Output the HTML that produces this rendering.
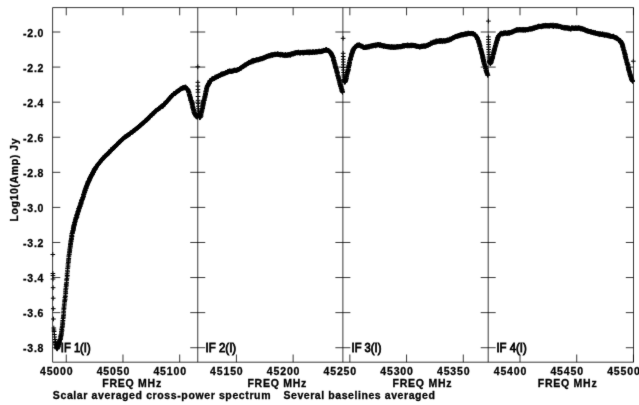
<!DOCTYPE html>
<html>
<head>
<meta charset="utf-8">
<title>Scalar averaged cross-power spectrum</title>
<style>
html,body{margin:0;padding:0;background:#fff;}
body{width:639px;height:405px;overflow:hidden;font-family:"Liberation Sans",sans-serif;}
svg{display:block;}
text{font-family:"Liberation Sans",sans-serif;fill:#000;}
</style>
</head>
<body>
<svg width="639" height="405" viewBox="0 0 639 405">
<defs><filter id="soft" x="0" y="0" width="639" height="405" filterUnits="userSpaceOnUse"><feConvolveMatrix order="3" kernelMatrix="0.015 0.065 0.015 0.065 0.68 0.065 0.015 0.065 0.015" divisor="1" edgeMode="duplicate" preserveAlpha="false"/></filter></defs>
<rect x="0" y="0" width="639" height="405" fill="#ffffff"/>
<g filter="url(#soft)">
<path d="M52.6 7.6H633.5V362.2H52.6ZM197.75 7.6V362.2M342.88 7.6V362.2M488.2 7.6V362.2" fill="none" stroke="#000" stroke-opacity="0.78" stroke-width="1.0"/>
<path d="M66.25 7.6v7.7M66.25 362.2v-7.7M122.97 7.6v7.7M122.97 362.2v-7.7M179.69 7.6v7.7M179.69 362.2v-7.7M236.41 7.6v7.7M236.41 362.2v-7.7M293.13 7.6v7.7M293.13 362.2v-7.7M349.85 7.6v7.7M349.85 362.2v-7.7M406.57 7.6v7.7M406.57 362.2v-7.7M463.29 7.6v7.7M463.29 362.2v-7.7M520.01 7.6v7.7M520.01 362.2v-7.7M576.73 7.6v7.7M576.73 362.2v-7.7M633.45 7.6v7.7M633.45 362.2v-7.7M52.6 32.00h7.7M633.5 32.00h-7.7M190.25 32.00h15M335.38 32.00h15M480.7 32.00h15M52.6 67.08h7.7M633.5 67.08h-7.7M190.25 67.08h15M335.38 67.08h15M480.7 67.08h15M52.6 102.16h7.7M633.5 102.16h-7.7M190.25 102.16h15M335.38 102.16h15M480.7 102.16h15M52.6 137.24h7.7M633.5 137.24h-7.7M190.25 137.24h15M335.38 137.24h15M480.7 137.24h15M52.6 172.32h7.7M633.5 172.32h-7.7M190.25 172.32h15M335.38 172.32h15M480.7 172.32h15M52.6 207.40h7.7M633.5 207.40h-7.7M190.25 207.40h15M335.38 207.40h15M480.7 207.40h15M52.6 242.48h7.7M633.5 242.48h-7.7M190.25 242.48h15M335.38 242.48h15M480.7 242.48h15M52.6 277.56h7.7M633.5 277.56h-7.7M190.25 277.56h15M335.38 277.56h15M480.7 277.56h15M52.6 312.64h7.7M633.5 312.64h-7.7M190.25 312.64h15M335.38 312.64h15M480.7 312.64h15M52.6 347.72h7.7M633.5 347.72h-7.7M190.25 347.72h15M335.38 347.72h15M480.7 347.72h15" fill="none" stroke="#000" stroke-opacity="0.78" stroke-width="1.0"/>
<path d="M50.45 254.50h4.70M52.80 252.15v4.70M50.55 273.50h4.70M52.90 271.15v4.70M50.60 275.60h4.70M52.95 273.25v4.70M50.65 279.00h4.70M53.00 276.65v4.70M50.75 287.70h4.70M53.10 285.35v4.70M50.85 298.20h4.70M53.20 295.85v4.70M50.95 308.70h4.70M53.30 306.35v4.70M51.10 319.00h4.70M53.45 316.65v4.70M51.45 328.00h4.70M53.80 325.65v4.70M51.60 330.00h4.70M53.95 327.65v4.70M51.75 331.50h4.70M54.10 329.15v4.70M52.05 334.50h4.70M54.40 332.15v4.70M52.35 337.00h4.70M54.70 334.65v4.70M52.65 339.50h4.70M55.00 337.15v4.70M53.20 341.36h4.70M55.55 339.01v4.70M53.07 342.28h4.70M55.42 339.93v4.70M53.06 342.79h4.70M55.41 340.44v4.70M53.29 342.87h4.70M55.64 340.52v4.70M53.56 344.15h4.70M55.91 341.80v4.70M53.42 344.47h4.70M55.77 342.12v4.70M53.71 344.97h4.70M56.06 342.62v4.70M53.71 345.12h4.70M56.06 342.77v4.70M53.94 346.07h4.70M56.29 343.72v4.70M54.01 346.04h4.70M56.36 343.69v4.70M54.36 347.10h4.70M56.71 344.75v4.70M54.17 348.16h4.70M56.52 345.81v4.70M54.33 347.60h4.70M56.68 345.25v4.70M54.39 347.77h4.70M56.74 345.42v4.70M54.75 348.64h4.70M57.10 346.29v4.70M54.77 348.96h4.70M57.12 346.61v4.70M54.91 348.33h4.70M57.26 345.98v4.70M54.99 347.69h4.70M57.34 345.34v4.70M55.26 347.96h4.70M57.61 345.61v4.70M55.85 346.97h4.70M58.20 344.62v4.70M55.86 346.52h4.70M58.21 344.17v4.70M55.96 345.84h4.70M58.31 343.49v4.70M55.76 345.05h4.70M58.11 342.70v4.70M56.21 345.79h4.70M58.56 343.44v4.70M56.34 344.48h4.70M58.69 342.13v4.70M56.73 344.22h4.70M59.08 341.87v4.70M56.60 343.73h4.70M58.95 341.38v4.70M56.70 343.06h4.70M59.05 340.71v4.70M56.65 342.81h4.70M59.00 340.46v4.70M56.99 342.51h4.70M59.34 340.16v4.70M57.09 341.09h4.70M59.44 338.74v4.70M57.27 341.70h4.70M59.62 339.35v4.70M57.37 340.47h4.70M59.72 338.12v4.70M57.39 339.96h4.70M59.74 337.61v4.70M57.67 339.45h4.70M60.02 337.10v4.70M58.08 339.22h4.70M60.43 336.87v4.70M58.01 339.20h4.70M60.36 336.85v4.70M58.37 338.13h4.70M60.72 335.78v4.70M58.30 337.91h4.70M60.65 335.56v4.70M58.34 336.60h4.70M60.69 334.25v4.70M58.58 336.81h4.70M60.93 334.46v4.70M58.66 335.63h4.70M61.01 333.28v4.70M58.68 335.06h4.70M61.03 332.71v4.70M58.78 334.91h4.70M61.13 332.56v4.70M59.16 333.98h4.70M61.51 331.63v4.70M59.13 333.21h4.70M61.48 330.86v4.70M59.16 332.18h4.70M61.51 329.83v4.70M59.17 331.35h4.70M61.52 329.00v4.70M59.73 330.77h4.70M62.08 328.42v4.70M59.45 329.50h4.70M61.80 327.15v4.70M59.48 328.86h4.70M61.83 326.51v4.70M59.79 327.40h4.70M62.14 325.05v4.70M59.91 326.74h4.70M62.26 324.39v4.70M60.17 326.02h4.70M62.52 323.67v4.70M60.33 324.89h4.70M62.68 322.54v4.70M60.14 324.17h4.70M62.49 321.82v4.70M60.45 323.29h4.70M62.80 320.94v4.70M60.22 322.17h4.70M62.57 319.82v4.70M60.53 320.94h4.70M62.88 318.59v4.70M60.54 320.51h4.70M62.89 318.16v4.70M60.69 318.61h4.70M63.04 316.26v4.70M60.96 317.75h4.70M63.31 315.40v4.70M60.96 316.77h4.70M63.31 314.42v4.70M61.16 315.44h4.70M63.51 313.09v4.70M61.35 314.20h4.70M63.70 311.85v4.70M61.22 312.78h4.70M63.57 310.43v4.70M61.35 311.72h4.70M63.70 309.37v4.70M61.38 309.87h4.70M63.73 307.52v4.70M61.67 308.79h4.70M64.02 306.44v4.70M61.48 308.07h4.70M63.83 305.72v4.70M61.78 306.90h4.70M64.13 304.55v4.70M61.92 305.22h4.70M64.27 302.87v4.70M61.92 304.22h4.70M64.27 301.87v4.70M62.18 302.96h4.70M64.53 300.61v4.70M62.29 301.57h4.70M64.64 299.22v4.70M62.45 300.32h4.70M64.80 297.97v4.70M62.53 299.90h4.70M64.88 297.55v4.70M62.84 299.03h4.70M65.19 296.68v4.70M62.56 297.57h4.70M64.91 295.22v4.70M63.09 296.47h4.70M65.44 294.12v4.70M62.88 295.12h4.70M65.23 292.77v4.70M63.41 293.37h4.70M65.76 291.02v4.70M63.32 292.98h4.70M65.67 290.63v4.70M63.25 291.64h4.70M65.60 289.29v4.70M63.31 290.04h4.70M65.66 287.69v4.70M63.46 289.16h4.70M65.81 286.81v4.70M63.68 288.21h4.70M66.03 285.86v4.70M63.67 286.70h4.70M66.02 284.35v4.70M64.07 285.71h4.70M66.42 283.36v4.70M63.84 284.55h4.70M66.19 282.20v4.70M64.08 283.27h4.70M66.43 280.92v4.70M64.31 282.32h4.70M66.66 279.97v4.70M64.40 280.20h4.70M66.75 277.85v4.70M64.29 279.77h4.70M66.64 277.42v4.70M64.57 278.65h4.70M66.92 276.30v4.70M64.76 276.82h4.70M67.11 274.47v4.70M64.99 275.52h4.70M67.34 273.17v4.70M64.64 275.07h4.70M66.99 272.72v4.70M64.77 273.32h4.70M67.12 270.97v4.70M65.31 271.85h4.70M67.66 269.50v4.70M65.03 270.77h4.70M67.38 268.42v4.70M65.18 268.73h4.70M67.53 266.38v4.70M65.46 268.04h4.70M67.81 265.69v4.70M65.67 266.73h4.70M68.02 264.38v4.70M65.67 265.13h4.70M68.02 262.78v4.70M65.68 263.80h4.70M68.03 261.45v4.70M66.06 262.55h4.70M68.41 260.20v4.70M66.15 261.24h4.70M68.50 258.89v4.70M66.10 260.22h4.70M68.45 257.87v4.70M66.28 259.23h4.70M68.63 256.88v4.70M66.45 258.46h4.70M68.80 256.11v4.70M66.50 256.81h4.70M68.85 254.46v4.70M66.49 255.87h4.70M68.84 253.52v4.70M66.86 254.69h4.70M69.21 252.34v4.70M66.87 254.20h4.70M69.22 251.85v4.70M66.97 252.92h4.70M69.32 250.57v4.70M67.25 252.21h4.70M69.60 249.86v4.70M67.27 251.65h4.70M69.62 249.30v4.70M67.50 250.33h4.70M69.85 247.98v4.70M67.36 249.66h4.70M69.71 247.31v4.70M67.54 248.16h4.70M69.89 245.81v4.70M67.86 247.90h4.70M70.21 245.55v4.70M67.89 246.72h4.70M70.24 244.37v4.70M68.09 246.09h4.70M70.44 243.74v4.70M67.99 245.05h4.70M70.34 242.70v4.70M68.10 244.61h4.70M70.45 242.26v4.70M68.21 244.04h4.70M70.56 241.69v4.70M68.36 243.44h4.70M70.71 241.09v4.70M68.39 242.10h4.70M70.74 239.75v4.70M68.57 241.85h4.70M70.92 239.50v4.70M68.88 241.18h4.70M71.23 238.83v4.70M68.54 240.33h4.70M70.89 237.98v4.70M69.14 239.54h4.70M71.49 237.19v4.70M68.95 238.92h4.70M71.30 236.57v4.70M69.07 238.34h4.70M71.42 235.99v4.70M69.25 237.90h4.70M71.60 235.55v4.70M69.45 236.61h4.70M71.80 234.26v4.70M69.57 236.46h4.70M71.92 234.11v4.70M69.51 235.41h4.70M71.86 233.06v4.70M69.36 235.19h4.70M71.71 232.84v4.70M69.74 233.67h4.70M72.09 231.32v4.70M69.67 233.64h4.70M72.02 231.29v4.70M70.16 233.09h4.70M72.51 230.74v4.70M70.23 232.20h4.70M72.58 229.85v4.70M70.08 232.23h4.70M72.43 229.88v4.70M70.46 231.39h4.70M72.81 229.04v4.70M70.70 230.57h4.70M73.05 228.22v4.70M70.55 230.62h4.70M72.90 228.27v4.70M71.01 229.79h4.70M73.36 227.44v4.70M71.10 229.09h4.70M73.45 226.74v4.70M71.01 228.70h4.70M73.36 226.35v4.70M70.83 228.33h4.70M73.18 225.98v4.70M71.32 227.71h4.70M73.67 225.36v4.70M71.29 227.69h4.70M73.64 225.34v4.70M71.22 226.34h4.70M73.57 223.99v4.70M71.43 225.95h4.70M73.78 223.60v4.70M71.84 225.94h4.70M74.19 223.59v4.70M71.62 225.20h4.70M73.97 222.85v4.70M72.29 224.75h4.70M74.64 222.40v4.70M71.89 224.46h4.70M74.24 222.11v4.70M72.25 223.89h4.70M74.60 221.54v4.70M72.15 222.93h4.70M74.50 220.58v4.70M72.52 222.73h4.70M74.87 220.38v4.70M72.33 222.57h4.70M74.68 220.22v4.70M72.83 221.63h4.70M75.18 219.28v4.70M72.82 221.26h4.70M75.17 218.91v4.70M72.90 220.29h4.70M75.25 217.94v4.70M73.19 219.76h4.70M75.54 217.41v4.70M73.34 219.27h4.70M75.69 216.92v4.70M73.41 219.18h4.70M75.76 216.83v4.70M73.83 218.42h4.70M76.18 216.07v4.70M73.50 218.08h4.70M75.85 215.73v4.70M73.68 217.63h4.70M76.03 215.28v4.70M74.06 217.57h4.70M76.41 215.22v4.70M74.38 216.66h4.70M76.73 214.31v4.70M74.67 217.02h4.70M77.02 214.67v4.70M74.39 215.28h4.70M76.74 212.93v4.70M74.55 215.54h4.70M76.90 213.19v4.70M74.36 215.10h4.70M76.71 212.75v4.70M74.81 214.39h4.70M77.16 212.04v4.70M75.08 214.49h4.70M77.43 212.14v4.70M75.05 213.81h4.70M77.40 211.46v4.70M75.17 213.07h4.70M77.52 210.72v4.70M75.42 213.02h4.70M77.77 210.67v4.70M75.47 211.76h4.70M77.82 209.41v4.70M75.78 211.51h4.70M78.13 209.16v4.70M75.85 212.08h4.70M78.20 209.73v4.70M75.98 210.75h4.70M78.33 208.40v4.70M75.90 211.02h4.70M78.25 208.67v4.70M76.26 210.39h4.70M78.61 208.04v4.70M76.54 209.76h4.70M78.89 207.41v4.70M76.50 209.05h4.70M78.85 206.70v4.70M76.22 208.43h4.70M78.57 206.08v4.70M76.82 208.39h4.70M79.17 206.04v4.70M77.03 207.96h4.70M79.38 205.61v4.70M77.14 207.80h4.70M79.49 205.45v4.70M77.12 207.05h4.70M79.47 204.70v4.70M77.15 207.00h4.70M79.50 204.65v4.70M77.54 206.43h4.70M79.89 204.08v4.70M77.91 206.19h4.70M80.26 203.84v4.70M77.81 205.69h4.70M80.16 203.34v4.70M77.75 205.17h4.70M80.10 202.82v4.70M78.13 204.15h4.70M80.48 201.80v4.70M78.45 204.01h4.70M80.80 201.66v4.70M78.49 203.69h4.70M80.84 201.34v4.70M78.68 203.81h4.70M81.03 201.46v4.70M78.55 202.55h4.70M80.90 200.20v4.70M78.79 202.86h4.70M81.14 200.51v4.70M78.90 202.01h4.70M81.25 199.66v4.70M79.17 200.96h4.70M81.52 198.61v4.70M79.14 200.97h4.70M81.49 198.62v4.70M79.43 200.75h4.70M81.78 198.40v4.70M79.36 200.45h4.70M81.71 198.10v4.70M79.44 200.14h4.70M81.79 197.79v4.70M79.70 199.61h4.70M82.05 197.26v4.70M79.84 199.58h4.70M82.19 197.23v4.70M80.07 199.04h4.70M82.42 196.69v4.70M80.30 198.21h4.70M82.65 195.86v4.70M80.46 198.12h4.70M82.81 195.77v4.70M80.56 197.45h4.70M82.91 195.10v4.70M80.59 197.36h4.70M82.94 195.01v4.70M81.13 196.43h4.70M83.48 194.08v4.70M81.02 196.12h4.70M83.37 193.77v4.70M81.20 195.90h4.70M83.55 193.55v4.70M81.38 194.48h4.70M83.73 192.13v4.70M81.28 194.56h4.70M83.63 192.21v4.70M81.49 194.18h4.70M83.84 191.83v4.70M81.55 194.15h4.70M83.90 191.80v4.70M82.08 192.64h4.70M84.43 190.29v4.70M81.89 193.12h4.70M84.24 190.77v4.70M82.08 192.47h4.70M84.43 190.12v4.70M82.01 191.84h4.70M84.36 189.49v4.70M82.47 191.99h4.70M84.82 189.64v4.70M82.51 190.97h4.70M84.86 188.62v4.70M82.66 190.71h4.70M85.01 188.36v4.70M82.87 190.38h4.70M85.22 188.03v4.70M82.83 189.97h4.70M85.18 187.62v4.70M82.89 189.73h4.70M85.24 187.38v4.70M83.39 188.71h4.70M85.74 186.36v4.70M83.41 188.36h4.70M85.76 186.01v4.70M83.65 188.52h4.70M86.00 186.17v4.70M83.60 188.15h4.70M85.95 185.80v4.70M83.71 187.27h4.70M86.06 184.92v4.70M83.83 187.04h4.70M86.18 184.69v4.70M84.01 186.76h4.70M86.36 184.41v4.70M84.11 186.57h4.70M86.46 184.22v4.70M84.50 185.83h4.70M86.85 183.48v4.70M84.27 185.84h4.70M86.62 183.49v4.70M84.80 185.22h4.70M87.15 182.87v4.70M84.58 185.00h4.70M86.93 182.65v4.70M85.14 184.01h4.70M87.49 181.66v4.70M85.12 184.14h4.70M87.47 181.79v4.70M85.07 184.04h4.70M87.42 181.69v4.70M85.14 183.65h4.70M87.49 181.30v4.70M85.68 183.28h4.70M88.03 180.93v4.70M85.49 182.36h4.70M87.84 180.01v4.70M85.57 182.02h4.70M87.92 179.67v4.70M86.14 182.17h4.70M88.49 179.82v4.70M85.89 181.54h4.70M88.24 179.19v4.70M86.03 181.51h4.70M88.38 179.16v4.70M86.14 181.80h4.70M88.49 179.45v4.70M86.36 180.75h4.70M88.71 178.40v4.70M86.66 181.11h4.70M89.01 178.76v4.70M86.95 180.22h4.70M89.30 177.87v4.70M86.93 180.10h4.70M89.28 177.75v4.70M87.12 179.83h4.70M89.47 177.48v4.70M87.04 179.07h4.70M89.39 176.72v4.70M87.35 178.79h4.70M89.70 176.44v4.70M87.67 178.86h4.70M90.02 176.51v4.70M87.45 178.45h4.70M89.80 176.10v4.70M87.67 178.21h4.70M90.02 175.86v4.70M88.03 177.52h4.70M90.38 175.17v4.70M87.75 177.76h4.70M90.10 175.41v4.70M88.15 177.41h4.70M90.50 175.06v4.70M88.38 177.01h4.70M90.73 174.66v4.70M88.58 176.50h4.70M90.93 174.15v4.70M88.61 176.23h4.70M90.96 173.88v4.70M88.57 176.37h4.70M90.92 174.02v4.70M88.97 175.31h4.70M91.32 172.96v4.70M88.85 175.69h4.70M91.20 173.34v4.70M89.33 175.11h4.70M91.68 172.76v4.70M89.28 174.59h4.70M91.63 172.24v4.70M89.83 174.87h4.70M92.18 172.52v4.70M89.72 174.64h4.70M92.07 172.29v4.70M89.87 174.34h4.70M92.22 171.99v4.70M89.82 174.09h4.70M92.17 171.74v4.70M90.03 173.98h4.70M92.38 171.63v4.70M90.05 173.14h4.70M92.40 170.79v4.70M90.40 173.41h4.70M92.75 171.06v4.70M90.46 172.54h4.70M92.81 170.19v4.70M90.57 172.33h4.70M92.92 169.98v4.70M91.01 172.47h4.70M93.36 170.12v4.70M91.06 172.02h4.70M93.41 169.67v4.70M90.93 172.02h4.70M93.28 169.67v4.70M91.40 171.58h4.70M93.75 169.23v4.70M91.29 171.46h4.70M93.64 169.11v4.70M91.38 171.11h4.70M93.73 168.76v4.70M91.47 170.33h4.70M93.82 167.98v4.70M91.80 170.47h4.70M94.15 168.12v4.70M92.14 170.04h4.70M94.49 167.69v4.70M92.00 169.53h4.70M94.35 167.18v4.70M91.86 169.10h4.70M94.21 166.75v4.70M92.35 169.04h4.70M94.70 166.69v4.70M92.60 169.59h4.70M94.95 167.24v4.70M92.53 169.43h4.70M94.88 167.08v4.70M92.74 169.04h4.70M95.09 166.69v4.70M92.82 168.77h4.70M95.17 166.42v4.70M92.85 168.45h4.70M95.20 166.10v4.70M93.07 168.00h4.70M95.42 165.65v4.70M93.37 167.88h4.70M95.72 165.53v4.70M93.41 167.83h4.70M95.76 165.48v4.70M93.68 166.98h4.70M96.03 164.63v4.70M93.93 167.18h4.70M96.28 164.83v4.70M94.02 166.69h4.70M96.37 164.34v4.70M94.21 166.60h4.70M96.56 164.25v4.70M94.66 165.75h4.70M97.01 163.40v4.70M95.16 165.35h4.70M97.51 163.00v4.70M95.35 164.69h4.70M97.70 162.34v4.70M95.46 164.22h4.70M97.81 161.87v4.70M95.80 164.57h4.70M98.15 162.22v4.70M96.15 164.17h4.70M98.50 161.82v4.70M96.24 163.28h4.70M98.59 160.93v4.70M96.61 163.36h4.70M98.96 161.01v4.70M97.02 162.83h4.70M99.37 160.48v4.70M97.34 162.44h4.70M99.69 160.09v4.70M97.53 162.54h4.70M99.88 160.19v4.70M97.73 161.86h4.70M100.08 159.51v4.70M98.34 161.50h4.70M100.69 159.15v4.70M98.49 160.95h4.70M100.84 158.60v4.70M98.96 160.13h4.70M101.31 157.78v4.70M98.78 160.17h4.70M101.13 157.82v4.70M99.48 160.27h4.70M101.83 157.92v4.70M99.48 159.47h4.70M101.83 157.12v4.70M99.85 159.57h4.70M102.20 157.22v4.70M99.98 158.79h4.70M102.33 156.44v4.70M100.20 158.99h4.70M102.55 156.64v4.70M100.70 158.65h4.70M103.05 156.30v4.70M100.91 157.80h4.70M103.26 155.45v4.70M101.22 157.72h4.70M103.57 155.37v4.70M101.51 157.87h4.70M103.86 155.52v4.70M101.68 157.13h4.70M104.03 154.78v4.70M102.22 157.25h4.70M104.57 154.90v4.70M102.26 155.95h4.70M104.61 153.60v4.70M102.63 156.75h4.70M104.98 154.40v4.70M103.09 156.07h4.70M105.44 153.72v4.70M103.11 155.85h4.70M105.46 153.50v4.70M103.61 155.33h4.70M105.96 152.98v4.70M103.75 155.12h4.70M106.10 152.77v4.70M104.09 154.63h4.70M106.44 152.28v4.70M104.39 154.66h4.70M106.74 152.31v4.70M104.59 154.67h4.70M106.94 152.32v4.70M105.08 153.71h4.70M107.43 151.36v4.70M105.34 154.10h4.70M107.69 151.75v4.70M105.43 154.06h4.70M107.78 151.71v4.70M105.78 153.74h4.70M108.13 151.39v4.70M105.95 152.80h4.70M108.30 150.45v4.70M106.51 153.42h4.70M108.86 151.07v4.70M106.70 152.75h4.70M109.05 150.40v4.70M106.82 151.80h4.70M109.17 149.45v4.70M107.14 152.36h4.70M109.49 150.01v4.70M107.18 151.48h4.70M109.53 149.13v4.70M107.45 151.38h4.70M109.80 149.03v4.70M108.16 150.69h4.70M110.51 148.34v4.70M108.25 151.18h4.70M110.60 148.83v4.70M108.58 150.12h4.70M110.93 147.77v4.70M108.68 149.61h4.70M111.03 147.26v4.70M109.27 149.71h4.70M111.62 147.36v4.70M109.60 149.91h4.70M111.95 147.56v4.70M109.63 149.22h4.70M111.98 146.87v4.70M110.13 149.14h4.70M112.48 146.79v4.70M110.33 148.32h4.70M112.68 145.97v4.70M110.71 148.27h4.70M113.06 145.92v4.70M110.52 148.07h4.70M112.87 145.72v4.70M111.21 148.61h4.70M113.56 146.26v4.70M111.37 147.31h4.70M113.72 144.96v4.70M112.03 147.48h4.70M114.38 145.13v4.70M111.96 146.83h4.70M114.31 144.48v4.70M112.13 147.32h4.70M114.48 144.97v4.70M112.52 146.44h4.70M114.87 144.09v4.70M112.77 146.79h4.70M115.12 144.44v4.70M113.04 146.23h4.70M115.39 143.88v4.70M113.45 145.83h4.70M115.80 143.48v4.70M113.56 145.68h4.70M115.91 143.33v4.70M114.22 145.19h4.70M116.57 142.84v4.70M114.13 144.53h4.70M116.48 142.18v4.70M114.58 144.56h4.70M116.93 142.21v4.70M114.81 144.36h4.70M117.16 142.01v4.70M114.89 144.31h4.70M117.24 141.96v4.70M115.43 143.78h4.70M117.78 141.43v4.70M115.72 143.80h4.70M118.07 141.45v4.70M115.97 142.99h4.70M118.32 140.64v4.70M116.42 142.83h4.70M118.77 140.48v4.70M116.42 142.22h4.70M118.77 139.87v4.70M116.82 142.10h4.70M119.17 139.75v4.70M117.02 142.27h4.70M119.37 139.92v4.70M117.39 142.17h4.70M119.74 139.82v4.70M117.71 141.47h4.70M120.06 139.12v4.70M117.90 141.17h4.70M120.25 138.82v4.70M118.33 141.06h4.70M120.68 138.71v4.70M118.46 141.04h4.70M120.81 138.69v4.70M118.81 140.38h4.70M121.16 138.03v4.70M118.86 140.39h4.70M121.21 138.04v4.70M119.40 140.01h4.70M121.75 137.66v4.70M119.59 139.49h4.70M121.94 137.14v4.70M119.90 139.55h4.70M122.25 137.20v4.70M120.20 139.19h4.70M122.55 136.84v4.70M120.43 139.08h4.70M122.78 136.73v4.70M120.82 138.51h4.70M123.17 136.16v4.70M121.18 138.73h4.70M123.53 136.38v4.70M121.47 138.21h4.70M123.82 135.86v4.70M121.61 137.66h4.70M123.96 135.31v4.70M122.03 137.14h4.70M124.38 134.79v4.70M122.14 137.45h4.70M124.49 135.10v4.70M122.62 137.32h4.70M124.97 134.97v4.70M122.63 136.67h4.70M124.98 134.32v4.70M122.95 136.91h4.70M125.30 134.56v4.70M123.35 136.60h4.70M125.70 134.25v4.70M123.52 136.39h4.70M125.87 134.04v4.70M124.05 135.91h4.70M126.40 133.56v4.70M124.19 136.51h4.70M126.54 134.16v4.70M124.56 135.68h4.70M126.91 133.33v4.70M124.86 135.39h4.70M127.21 133.04v4.70M125.04 135.88h4.70M127.39 133.53v4.70M125.61 134.69h4.70M127.96 132.34v4.70M125.71 135.59h4.70M128.06 133.24v4.70M125.81 134.88h4.70M128.16 132.53v4.70M126.40 134.46h4.70M128.75 132.11v4.70M126.53 134.39h4.70M128.88 132.04v4.70M126.45 134.31h4.70M128.80 131.96v4.70M127.00 134.28h4.70M129.35 131.93v4.70M127.62 134.01h4.70M129.97 131.66v4.70M127.54 133.74h4.70M129.89 131.39v4.70M127.91 133.71h4.70M130.26 131.36v4.70M127.94 132.85h4.70M130.29 130.50v4.70M128.14 133.18h4.70M130.49 130.83v4.70M128.72 132.60h4.70M131.07 130.25v4.70M128.90 132.42h4.70M131.25 130.07v4.70M129.15 132.29h4.70M131.50 129.94v4.70M129.50 132.59h4.70M131.85 130.24v4.70M129.91 131.71h4.70M132.26 129.36v4.70M130.06 132.11h4.70M132.41 129.76v4.70M130.50 131.62h4.70M132.85 129.27v4.70M130.82 131.78h4.70M133.17 129.43v4.70M130.81 130.86h4.70M133.16 128.51v4.70M131.02 131.01h4.70M133.37 128.66v4.70M131.51 130.44h4.70M133.86 128.09v4.70M131.73 130.62h4.70M134.08 128.27v4.70M132.11 130.02h4.70M134.46 127.67v4.70M132.60 129.64h4.70M134.95 127.29v4.70M132.51 130.51h4.70M134.86 128.16v4.70M132.92 129.33h4.70M135.27 126.98v4.70M133.15 129.23h4.70M135.50 126.88v4.70M133.66 129.26h4.70M136.01 126.91v4.70M133.91 128.72h4.70M136.26 126.37v4.70M133.89 128.65h4.70M136.24 126.30v4.70M134.63 128.66h4.70M136.98 126.31v4.70M134.66 128.34h4.70M137.01 125.99v4.70M134.91 127.85h4.70M137.26 125.50v4.70M135.06 127.53h4.70M137.41 125.18v4.70M135.55 127.34h4.70M137.90 124.99v4.70M135.93 127.72h4.70M138.28 125.37v4.70M136.30 126.82h4.70M138.65 124.47v4.70M136.27 126.48h4.70M138.62 124.13v4.70M136.52 126.45h4.70M138.87 124.10v4.70M137.01 126.25h4.70M139.36 123.90v4.70M137.26 126.00h4.70M139.61 123.65v4.70M137.50 125.49h4.70M139.85 123.14v4.70M138.06 125.78h4.70M140.41 123.43v4.70M137.95 124.95h4.70M140.30 122.60v4.70M138.28 124.99h4.70M140.63 122.64v4.70M138.84 125.04h4.70M141.19 122.69v4.70M139.10 124.82h4.70M141.45 122.47v4.70M139.39 124.47h4.70M141.74 122.12v4.70M139.57 123.96h4.70M141.92 121.61v4.70M139.52 123.71h4.70M141.87 121.36v4.70M140.34 123.34h4.70M142.69 120.99v4.70M140.26 123.56h4.70M142.61 121.21v4.70M140.65 122.86h4.70M143.00 120.51v4.70M141.15 122.95h4.70M143.50 120.60v4.70M141.32 122.34h4.70M143.67 119.99v4.70M141.56 122.37h4.70M143.91 120.02v4.70M141.89 122.36h4.70M144.24 120.01v4.70M142.22 121.81h4.70M144.57 119.46v4.70M142.44 121.17h4.70M144.79 118.82v4.70M142.72 121.46h4.70M145.07 119.11v4.70M142.85 120.77h4.70M145.20 118.42v4.70M143.18 120.39h4.70M145.53 118.04v4.70M143.52 120.59h4.70M145.87 118.24v4.70M143.61 120.26h4.70M145.96 117.91v4.70M144.20 120.30h4.70M146.55 117.95v4.70M144.48 119.68h4.70M146.83 117.33v4.70M144.56 119.34h4.70M146.91 116.99v4.70M144.98 119.90h4.70M147.33 117.55v4.70M145.39 119.40h4.70M147.74 117.05v4.70M145.66 118.18h4.70M148.01 115.83v4.70M145.71 118.26h4.70M148.06 115.91v4.70M146.21 118.62h4.70M148.56 116.27v4.70M146.21 117.85h4.70M148.56 115.50v4.70M146.68 117.42h4.70M149.03 115.07v4.70M146.78 117.09h4.70M149.13 114.74v4.70M147.29 116.74h4.70M149.64 114.39v4.70M147.61 116.77h4.70M149.96 114.42v4.70M147.84 116.93h4.70M150.19 114.58v4.70M147.91 115.94h4.70M150.26 113.59v4.70M148.36 115.60h4.70M150.71 113.25v4.70M148.47 115.60h4.70M150.82 113.25v4.70M148.88 114.98h4.70M151.23 112.63v4.70M149.09 115.26h4.70M151.44 112.91v4.70M149.63 114.22h4.70M151.98 111.87v4.70M149.91 114.80h4.70M152.26 112.45v4.70M149.83 113.82h4.70M152.18 111.47v4.70M150.34 113.86h4.70M152.69 111.51v4.70M150.58 113.98h4.70M152.93 111.63v4.70M150.79 113.50h4.70M153.14 111.15v4.70M151.20 113.45h4.70M153.55 111.10v4.70M151.68 113.43h4.70M154.03 111.08v4.70M151.73 112.58h4.70M154.08 110.23v4.70M152.34 112.59h4.70M154.69 110.24v4.70M152.33 111.81h4.70M154.68 109.46v4.70M152.66 111.65h4.70M155.01 109.30v4.70M152.76 111.23h4.70M155.11 108.88v4.70M153.04 111.40h4.70M155.39 109.05v4.70M153.18 110.87h4.70M155.53 108.52v4.70M153.67 110.52h4.70M156.02 108.17v4.70M153.78 110.40h4.70M156.13 108.05v4.70M154.04 110.60h4.70M156.39 108.25v4.70M154.39 110.42h4.70M156.74 108.07v4.70M154.96 109.61h4.70M157.31 107.26v4.70M155.11 109.61h4.70M157.46 107.26v4.70M155.21 109.44h4.70M157.56 107.09v4.70M155.63 109.54h4.70M157.98 107.19v4.70M156.10 108.79h4.70M158.45 106.44v4.70M156.17 109.08h4.70M158.52 106.73v4.70M156.69 107.99h4.70M159.04 105.64v4.70M156.99 108.47h4.70M159.34 106.12v4.70M157.31 108.19h4.70M159.66 105.84v4.70M157.24 108.13h4.70M159.59 105.78v4.70M157.83 107.93h4.70M160.18 105.58v4.70M157.58 107.93h4.70M159.93 105.58v4.70M157.98 107.23h4.70M160.33 104.88v4.70M158.33 106.76h4.70M160.68 104.41v4.70M158.60 106.81h4.70M160.95 104.46v4.70M158.98 106.88h4.70M161.33 104.53v4.70M159.30 106.23h4.70M161.65 103.88v4.70M159.61 106.74h4.70M161.96 104.39v4.70M160.06 106.26h4.70M162.41 103.91v4.70M160.30 106.25h4.70M162.65 103.90v4.70M160.69 106.25h4.70M163.04 103.90v4.70M160.72 105.41h4.70M163.07 103.06v4.70M161.28 105.70h4.70M163.63 103.35v4.70M161.57 104.25h4.70M163.92 101.90v4.70M161.59 103.69h4.70M163.94 101.34v4.70M162.02 104.40h4.70M164.37 102.05v4.70M162.20 104.04h4.70M164.55 101.69v4.70M162.67 103.68h4.70M165.02 101.33v4.70M162.91 103.62h4.70M165.26 101.27v4.70M163.09 103.27h4.70M165.44 100.92v4.70M163.34 102.48h4.70M165.69 100.13v4.70M163.72 102.69h4.70M166.07 100.34v4.70M163.87 102.37h4.70M166.22 100.02v4.70M164.31 101.43h4.70M166.66 99.08v4.70M164.44 101.34h4.70M166.79 98.99v4.70M164.61 101.23h4.70M166.96 98.88v4.70M164.90 100.67h4.70M167.25 98.32v4.70M165.35 100.56h4.70M167.70 98.21v4.70M165.64 100.79h4.70M167.99 98.44v4.70M165.80 99.86h4.70M168.15 97.51v4.70M165.98 99.60h4.70M168.33 97.25v4.70M166.62 99.49h4.70M168.97 97.14v4.70M166.63 98.72h4.70M168.98 96.37v4.70M167.20 98.46h4.70M169.55 96.11v4.70M167.44 97.88h4.70M169.79 95.53v4.70M167.79 98.18h4.70M170.14 95.83v4.70M167.93 97.34h4.70M170.28 94.99v4.70M168.12 97.33h4.70M170.47 94.98v4.70M168.47 96.98h4.70M170.82 94.63v4.70M168.68 96.80h4.70M171.03 94.45v4.70M169.21 95.88h4.70M171.56 93.53v4.70M169.07 95.75h4.70M171.42 93.40v4.70M169.46 95.44h4.70M171.81 93.09v4.70M169.93 95.73h4.70M172.28 93.38v4.70M170.09 95.25h4.70M172.44 92.90v4.70M170.44 95.25h4.70M172.79 92.90v4.70M170.75 94.73h4.70M173.10 92.38v4.70M171.08 94.27h4.70M173.43 91.92v4.70M171.45 93.54h4.70M173.80 91.19v4.70M171.46 93.86h4.70M173.81 91.51v4.70M171.95 93.54h4.70M174.30 91.19v4.70M172.39 93.29h4.70M174.74 90.94v4.70M172.70 93.65h4.70M175.05 91.30v4.70M172.69 93.42h4.70M175.04 91.07v4.70M173.30 93.32h4.70M175.65 90.97v4.70M172.92 93.19h4.70M175.27 90.84v4.70M173.57 92.12h4.70M175.92 89.77v4.70M173.93 92.02h4.70M176.28 89.67v4.70M174.13 92.24h4.70M176.48 89.89v4.70M174.29 92.14h4.70M176.64 89.79v4.70M174.52 91.79h4.70M176.87 89.44v4.70M174.87 91.47h4.70M177.22 89.12v4.70M175.52 91.35h4.70M177.87 89.00v4.70M175.36 91.07h4.70M177.71 88.72v4.70M175.69 90.91h4.70M178.04 88.56v4.70M176.11 90.72h4.70M178.46 88.37v4.70M176.38 90.33h4.70M178.73 87.98v4.70M176.72 90.61h4.70M179.07 88.26v4.70M176.84 90.08h4.70M179.19 87.73v4.70M177.23 90.27h4.70M179.58 87.92v4.70M177.67 89.47h4.70M180.02 87.12v4.70M177.80 89.03h4.70M180.15 86.68v4.70M177.93 89.27h4.70M180.28 86.92v4.70M178.45 89.35h4.70M180.80 87.00v4.70M178.59 88.46h4.70M180.94 86.11v4.70M178.98 88.63h4.70M181.33 86.28v4.70M179.27 88.55h4.70M181.62 86.20v4.70M179.60 88.53h4.70M181.95 86.18v4.70M179.90 88.04h4.70M182.25 85.69v4.70M180.21 87.88h4.70M182.56 85.53v4.70M180.35 88.47h4.70M182.70 86.12v4.70M180.68 87.46h4.70M183.03 85.11v4.70M181.13 88.02h4.70M183.48 85.67v4.70M181.36 87.69h4.70M183.71 85.34v4.70M181.53 87.47h4.70M183.88 85.12v4.70M181.65 87.92h4.70M184.00 85.57v4.70M181.99 87.25h4.70M184.34 84.90v4.70M182.26 87.90h4.70M184.61 85.55v4.70M182.74 87.20h4.70M185.09 84.85v4.70M182.89 87.45h4.70M185.24 85.10v4.70M183.31 86.89h4.70M185.66 84.54v4.70M183.60 87.48h4.70M185.95 85.13v4.70M183.64 87.67h4.70M185.99 85.32v4.70M184.15 88.60h4.70M186.50 86.25v4.70M184.33 88.57h4.70M186.68 86.22v4.70M184.47 88.88h4.70M186.82 86.53v4.70M185.00 88.64h4.70M187.35 86.29v4.70M185.08 89.76h4.70M187.43 87.41v4.70M185.04 89.65h4.70M187.39 87.30v4.70M185.54 89.52h4.70M187.89 87.17v4.70M185.53 90.31h4.70M187.88 87.96v4.70M185.86 90.20h4.70M188.21 87.85v4.70M186.04 90.98h4.70M188.39 88.63v4.70M186.19 91.55h4.70M188.54 89.20v4.70M186.21 91.68h4.70M188.56 89.33v4.70M186.03 91.46h4.70M188.38 89.11v4.70M186.29 92.12h4.70M188.64 89.77v4.70M186.72 92.08h4.70M189.07 89.73v4.70M186.67 92.66h4.70M189.02 90.31v4.70M186.63 93.96h4.70M188.98 91.61v4.70M187.02 94.50h4.70M189.37 92.15v4.70M187.32 94.25h4.70M189.67 91.90v4.70M187.01 95.68h4.70M189.36 93.33v4.70M187.37 95.26h4.70M189.72 92.91v4.70M187.68 96.19h4.70M190.03 93.84v4.70M187.61 96.59h4.70M189.96 94.24v4.70M187.88 97.25h4.70M190.23 94.90v4.70M188.11 97.65h4.70M190.46 95.30v4.70M188.09 98.44h4.70M190.44 96.09v4.70M188.33 99.08h4.70M190.68 96.73v4.70M188.39 99.21h4.70M190.74 96.86v4.70M188.39 100.16h4.70M190.74 97.81v4.70M188.50 100.25h4.70M190.85 97.90v4.70M188.71 100.77h4.70M191.06 98.42v4.70M189.10 100.65h4.70M191.45 98.30v4.70M189.10 101.10h4.70M191.45 98.75v4.70M189.48 101.99h4.70M191.83 99.64v4.70M189.18 102.42h4.70M191.53 100.07v4.70M189.75 103.60h4.70M192.10 101.25v4.70M189.89 103.45h4.70M192.24 101.10v4.70M189.82 104.75h4.70M192.17 102.40v4.70M189.84 104.64h4.70M192.19 102.29v4.70M189.92 104.89h4.70M192.27 102.54v4.70M190.36 105.93h4.70M192.71 103.58v4.70M190.36 106.42h4.70M192.71 104.07v4.70M190.56 107.22h4.70M192.91 104.87v4.70M190.52 107.17h4.70M192.87 104.82v4.70M190.48 108.09h4.70M192.83 105.74v4.70M190.67 107.81h4.70M193.02 105.46v4.70M190.82 108.73h4.70M193.17 106.38v4.70M191.10 109.47h4.70M193.45 107.12v4.70M191.01 109.45h4.70M193.36 107.10v4.70M191.21 109.81h4.70M193.56 107.46v4.70M191.38 110.79h4.70M193.73 108.44v4.70M191.55 110.64h4.70M193.90 108.29v4.70M191.51 111.97h4.70M193.86 109.62v4.70M191.67 112.26h4.70M194.02 109.91v4.70M192.06 112.38h4.70M194.41 110.03v4.70M191.96 112.95h4.70M194.31 110.60v4.70M192.12 113.23h4.70M194.47 110.88v4.70M192.41 113.43h4.70M194.76 111.08v4.70M192.50 113.89h4.70M194.85 111.54v4.70M192.49 114.23h4.70M194.84 111.88v4.70M192.72 114.00h4.70M195.07 111.65v4.70M192.91 114.70h4.70M195.26 112.35v4.70M193.01 114.39h4.70M195.36 112.04v4.70M193.36 115.44h4.70M195.71 113.09v4.70M193.48 115.56h4.70M195.83 113.21v4.70M193.34 115.71h4.70M195.69 113.36v4.70M193.67 116.72h4.70M196.02 114.37v4.70M194.02 116.61h4.70M196.37 114.26v4.70M194.15 116.33h4.70M196.50 113.98v4.70M194.58 117.10h4.70M196.93 114.75v4.70M195.03 117.09h4.70M197.38 114.74v4.70M195.45 66.80h4.70M197.80 64.45v4.70M195.50 82.30h4.70M197.85 79.95v4.70M195.55 86.10h4.70M197.90 83.75v4.70M195.60 89.60h4.70M197.95 87.25v4.70M195.65 92.20h4.70M198.00 89.85v4.70M195.70 96.50h4.70M198.05 94.15v4.70M195.75 100.30h4.70M198.10 97.95v4.70M195.85 103.40h4.70M198.20 101.05v4.70M195.95 106.20h4.70M198.30 103.85v4.70M196.05 108.80h4.70M198.40 106.45v4.70M196.15 111.00h4.70M198.50 108.65v4.70M195.97 113.54h4.70M198.32 111.19v4.70M196.22 114.58h4.70M198.57 112.23v4.70M196.76 115.15h4.70M199.11 112.80v4.70M196.74 115.17h4.70M199.09 112.82v4.70M197.09 116.05h4.70M199.44 113.70v4.70M197.00 116.21h4.70M199.35 113.86v4.70M196.98 116.52h4.70M199.33 114.17v4.70M197.09 117.20h4.70M199.44 114.85v4.70M197.31 117.79h4.70M199.66 115.44v4.70M197.63 117.35h4.70M199.98 115.00v4.70M197.84 117.41h4.70M200.19 115.06v4.70M197.89 116.84h4.70M200.24 114.49v4.70M197.83 115.86h4.70M200.18 113.51v4.70M198.33 115.72h4.70M200.68 113.37v4.70M198.86 116.09h4.70M201.21 113.74v4.70M198.32 114.43h4.70M200.67 112.08v4.70M198.64 114.77h4.70M200.99 112.42v4.70M198.94 113.81h4.70M201.29 111.46v4.70M198.68 112.91h4.70M201.03 110.56v4.70M198.60 112.16h4.70M200.95 109.81v4.70M199.18 112.35h4.70M201.53 110.00v4.70M199.03 111.62h4.70M201.38 109.27v4.70M199.59 111.10h4.70M201.94 108.75v4.70M199.41 110.69h4.70M201.76 108.34v4.70M199.65 109.98h4.70M202.00 107.63v4.70M199.60 109.28h4.70M201.95 106.93v4.70M199.81 108.70h4.70M202.16 106.35v4.70M200.11 108.59h4.70M202.46 106.24v4.70M200.19 108.39h4.70M202.54 106.04v4.70M200.37 107.65h4.70M202.72 105.30v4.70M200.31 106.62h4.70M202.66 104.27v4.70M200.71 105.91h4.70M203.06 103.56v4.70M200.38 105.30h4.70M202.73 102.95v4.70M200.62 105.13h4.70M202.97 102.78v4.70M200.86 104.39h4.70M203.21 102.04v4.70M200.56 104.00h4.70M202.91 101.65v4.70M201.08 103.37h4.70M203.43 101.02v4.70M201.02 103.00h4.70M203.37 100.65v4.70M201.37 102.29h4.70M203.72 99.94v4.70M201.06 101.62h4.70M203.41 99.27v4.70M201.36 100.75h4.70M203.71 98.40v4.70M201.61 100.57h4.70M203.96 98.22v4.70M201.69 100.39h4.70M204.04 98.04v4.70M201.68 100.36h4.70M204.03 98.01v4.70M201.75 99.22h4.70M204.10 96.87v4.70M202.02 99.12h4.70M204.37 96.77v4.70M202.12 98.04h4.70M204.47 95.69v4.70M202.37 97.98h4.70M204.72 95.63v4.70M202.72 97.21h4.70M205.07 94.86v4.70M202.58 96.58h4.70M204.93 94.23v4.70M202.46 96.24h4.70M204.81 93.89v4.70M202.96 95.37h4.70M205.31 93.02v4.70M202.87 94.78h4.70M205.22 92.43v4.70M203.31 94.37h4.70M205.66 92.02v4.70M203.31 93.84h4.70M205.66 91.49v4.70M203.35 93.42h4.70M205.70 91.07v4.70M203.10 93.12h4.70M205.45 90.77v4.70M203.65 91.92h4.70M206.00 89.57v4.70M203.65 91.85h4.70M206.00 89.50v4.70M203.63 91.33h4.70M205.98 88.98v4.70M203.62 90.89h4.70M205.97 88.54v4.70M204.20 89.86h4.70M206.55 87.51v4.70M204.12 90.10h4.70M206.47 87.75v4.70M204.27 88.96h4.70M206.62 86.61v4.70M204.22 88.65h4.70M206.57 86.30v4.70M204.45 88.29h4.70M206.80 85.94v4.70M204.36 87.97h4.70M206.71 85.62v4.70M204.67 87.34h4.70M207.02 84.99v4.70M204.76 86.36h4.70M207.11 84.01v4.70M204.93 86.11h4.70M207.28 83.76v4.70M205.10 86.28h4.70M207.45 83.93v4.70M205.46 85.87h4.70M207.81 83.52v4.70M205.36 85.41h4.70M207.71 83.06v4.70M205.67 85.64h4.70M208.02 83.29v4.70M205.67 85.03h4.70M208.02 82.68v4.70M205.75 84.90h4.70M208.10 82.55v4.70M206.15 83.74h4.70M208.50 81.39v4.70M206.19 84.20h4.70M208.54 81.85v4.70M205.94 84.21h4.70M208.29 81.86v4.70M206.42 83.95h4.70M208.77 81.60v4.70M206.37 84.18h4.70M208.72 81.83v4.70M206.73 83.12h4.70M209.08 80.77v4.70M207.09 83.10h4.70M209.44 80.75v4.70M207.12 82.92h4.70M209.47 80.57v4.70M206.83 82.74h4.70M209.18 80.39v4.70M207.23 82.01h4.70M209.58 79.66v4.70M207.56 81.40h4.70M209.91 79.05v4.70M207.61 81.56h4.70M209.96 79.21v4.70M207.70 81.22h4.70M210.05 78.87v4.70M207.61 80.49h4.70M209.96 78.14v4.70M207.96 80.63h4.70M210.31 78.28v4.70M208.98 80.33h4.70M211.33 77.98v4.70M208.68 79.99h4.70M211.03 77.64v4.70M209.13 80.00h4.70M211.48 77.65v4.70M209.09 79.89h4.70M211.44 77.54v4.70M209.55 79.64h4.70M211.90 77.29v4.70M209.53 78.76h4.70M211.88 76.41v4.70M210.21 78.53h4.70M212.56 76.18v4.70M210.46 79.02h4.70M212.81 76.67v4.70M210.71 78.89h4.70M213.06 76.54v4.70M211.01 78.78h4.70M213.36 76.43v4.70M211.19 78.50h4.70M213.54 76.15v4.70M211.98 78.71h4.70M214.33 76.36v4.70M211.91 78.35h4.70M214.26 76.00v4.70M211.99 78.15h4.70M214.34 75.80v4.70M212.35 78.21h4.70M214.70 75.86v4.70M212.53 77.06h4.70M214.88 74.71v4.70M212.87 77.83h4.70M215.22 75.48v4.70M213.61 77.77h4.70M215.96 75.42v4.70M213.37 77.25h4.70M215.72 74.90v4.70M213.66 77.11h4.70M216.01 74.76v4.70M213.95 76.53h4.70M216.30 74.18v4.70M214.44 76.94h4.70M216.79 74.59v4.70M214.63 76.84h4.70M216.98 74.49v4.70M215.24 76.63h4.70M217.59 74.28v4.70M215.17 76.71h4.70M217.52 74.36v4.70M215.26 76.54h4.70M217.61 74.19v4.70M215.67 75.93h4.70M218.02 73.58v4.70M216.09 76.54h4.70M218.44 74.19v4.70M216.24 76.19h4.70M218.59 73.84v4.70M216.70 75.35h4.70M219.05 73.00v4.70M217.06 75.39h4.70M219.41 73.04v4.70M216.99 75.27h4.70M219.34 72.92v4.70M217.38 75.55h4.70M219.73 73.20v4.70M217.66 75.70h4.70M220.01 73.35v4.70M218.09 74.90h4.70M220.44 72.55v4.70M218.22 75.06h4.70M220.57 72.71v4.70M218.32 74.21h4.70M220.67 71.86v4.70M218.78 74.93h4.70M221.13 72.58v4.70M219.22 74.62h4.70M221.57 72.27v4.70M219.44 73.83h4.70M221.79 71.48v4.70M219.71 73.83h4.70M222.06 71.48v4.70M220.17 74.23h4.70M222.52 71.88v4.70M220.31 74.22h4.70M222.66 71.87v4.70M220.66 74.04h4.70M223.01 71.69v4.70M220.95 73.67h4.70M223.30 71.32v4.70M220.98 73.82h4.70M223.33 71.47v4.70M221.68 73.90h4.70M224.03 71.55v4.70M221.71 73.65h4.70M224.06 71.30v4.70M221.96 73.46h4.70M224.31 71.11v4.70M222.22 73.27h4.70M224.57 70.92v4.70M222.90 73.34h4.70M225.25 70.99v4.70M223.10 72.75h4.70M225.45 70.40v4.70M223.06 72.86h4.70M225.41 70.51v4.70M223.53 72.69h4.70M225.88 70.34v4.70M223.88 72.48h4.70M226.23 70.13v4.70M224.22 72.82h4.70M226.57 70.47v4.70M224.13 72.60h4.70M226.48 70.25v4.70M224.55 72.63h4.70M226.90 70.28v4.70M224.78 72.32h4.70M227.13 69.97v4.70M225.23 71.30h4.70M227.58 68.95v4.70M225.15 72.07h4.70M227.50 69.72v4.70M225.70 72.25h4.70M228.05 69.90v4.70M226.03 71.47h4.70M228.38 69.12v4.70M226.33 71.55h4.70M228.68 69.20v4.70M226.53 71.54h4.70M228.88 69.19v4.70M226.90 71.20h4.70M229.25 68.85v4.70M226.97 70.89h4.70M229.32 68.54v4.70M227.74 71.19h4.70M230.09 68.84v4.70M227.57 71.08h4.70M229.92 68.73v4.70M227.89 71.24h4.70M230.24 68.89v4.70M228.36 71.37h4.70M230.71 69.02v4.70M228.60 71.08h4.70M230.95 68.73v4.70M228.82 71.58h4.70M231.17 69.23v4.70M229.12 71.26h4.70M231.47 68.91v4.70M229.10 71.27h4.70M231.45 68.92v4.70M229.72 71.46h4.70M232.07 69.11v4.70M229.56 71.03h4.70M231.91 68.68v4.70M230.23 71.00h4.70M232.58 68.65v4.70M230.44 70.99h4.70M232.79 68.64v4.70M230.92 70.90h4.70M233.27 68.55v4.70M231.06 70.78h4.70M233.41 68.43v4.70M231.33 70.80h4.70M233.68 68.45v4.70M231.56 70.15h4.70M233.91 67.80v4.70M232.15 70.17h4.70M234.50 67.82v4.70M232.22 70.25h4.70M234.57 67.90v4.70M232.47 70.30h4.70M234.82 67.95v4.70M232.79 70.28h4.70M235.14 67.93v4.70M232.89 70.56h4.70M235.24 68.21v4.70M233.57 70.51h4.70M235.92 68.16v4.70M233.67 70.02h4.70M236.02 67.67v4.70M233.92 70.39h4.70M236.27 68.04v4.70M234.12 70.45h4.70M236.47 68.10v4.70M234.50 70.21h4.70M236.85 67.86v4.70M234.71 69.86h4.70M237.06 67.51v4.70M235.10 70.03h4.70M237.45 67.68v4.70M235.40 69.49h4.70M237.75 67.14v4.70M235.52 69.67h4.70M237.87 67.32v4.70M235.64 69.85h4.70M237.99 67.50v4.70M236.25 69.41h4.70M238.60 67.06v4.70M236.38 69.49h4.70M238.73 67.14v4.70M236.73 69.66h4.70M239.08 67.31v4.70M237.11 68.48h4.70M239.46 66.13v4.70M237.44 68.60h4.70M239.79 66.25v4.70M237.54 68.50h4.70M239.89 66.15v4.70M237.88 68.47h4.70M240.23 66.12v4.70M238.30 68.34h4.70M240.65 65.99v4.70M238.36 67.61h4.70M240.71 65.26v4.70M238.63 67.93h4.70M240.98 65.58v4.70M239.17 68.17h4.70M241.52 65.82v4.70M239.12 67.45h4.70M241.47 65.10v4.70M239.57 67.11h4.70M241.92 64.76v4.70M239.91 66.96h4.70M242.26 64.61v4.70M240.13 66.64h4.70M242.48 64.29v4.70M240.51 66.95h4.70M242.86 64.60v4.70M240.98 66.28h4.70M243.33 63.93v4.70M240.86 66.17h4.70M243.21 63.82v4.70M241.18 66.37h4.70M243.53 64.02v4.70M241.46 65.89h4.70M243.81 63.54v4.70M241.67 65.59h4.70M244.02 63.24v4.70M242.18 65.97h4.70M244.53 63.62v4.70M242.33 65.45h4.70M244.68 63.10v4.70M242.41 64.81h4.70M244.76 62.46v4.70M242.88 64.86h4.70M245.23 62.51v4.70M243.35 65.02h4.70M245.70 62.67v4.70M243.33 64.82h4.70M245.68 62.47v4.70M243.69 65.03h4.70M246.04 62.68v4.70M244.19 64.35h4.70M246.54 62.00v4.70M244.40 64.11h4.70M246.75 61.76v4.70M244.71 63.74h4.70M247.06 61.39v4.70M245.10 63.85h4.70M247.45 61.50v4.70M245.39 63.57h4.70M247.74 61.22v4.70M245.66 63.19h4.70M248.01 60.84v4.70M246.38 63.03h4.70M248.73 60.68v4.70M246.06 63.36h4.70M248.41 61.01v4.70M246.59 62.66h4.70M248.94 60.31v4.70M246.44 62.31h4.70M248.79 59.96v4.70M246.83 62.34h4.70M249.18 59.99v4.70M247.23 62.73h4.70M249.58 60.38v4.70M247.70 62.08h4.70M250.05 59.73v4.70M247.91 62.39h4.70M250.26 60.04v4.70M248.32 61.93h4.70M250.67 59.58v4.70M248.28 62.08h4.70M250.63 59.73v4.70M248.90 61.57h4.70M251.25 59.22v4.70M249.25 62.13h4.70M251.60 59.78v4.70M249.20 61.03h4.70M251.55 58.68v4.70M249.44 61.29h4.70M251.79 58.94v4.70M249.89 60.80h4.70M252.24 58.45v4.70M250.46 61.90h4.70M252.81 59.55v4.70M250.27 60.55h4.70M252.62 58.20v4.70M250.64 61.14h4.70M252.99 58.79v4.70M251.15 61.14h4.70M253.50 58.79v4.70M251.20 60.25h4.70M253.55 57.90v4.70M251.59 61.01h4.70M253.94 58.66v4.70M251.75 60.76h4.70M254.10 58.41v4.70M252.11 60.53h4.70M254.46 58.18v4.70M252.19 60.63h4.70M254.54 58.28v4.70M252.43 60.87h4.70M254.78 58.52v4.70M252.79 60.52h4.70M255.14 58.17v4.70M253.10 60.42h4.70M255.45 58.07v4.70M253.47 60.39h4.70M255.82 58.04v4.70M253.66 59.67h4.70M256.01 57.32v4.70M254.02 59.99h4.70M256.37 57.64v4.70M254.12 59.82h4.70M256.47 57.47v4.70M254.38 59.99h4.70M256.73 57.64v4.70M254.86 59.89h4.70M257.21 57.54v4.70M255.59 59.86h4.70M257.94 57.51v4.70M255.54 59.93h4.70M257.89 57.58v4.70M255.74 59.50h4.70M258.09 57.15v4.70M256.18 59.91h4.70M258.53 57.56v4.70M255.89 59.48h4.70M258.24 57.13v4.70M256.56 59.29h4.70M258.91 56.94v4.70M257.09 59.22h4.70M259.44 56.87v4.70M257.31 59.14h4.70M259.66 56.79v4.70M257.41 59.44h4.70M259.76 57.09v4.70M257.64 59.10h4.70M259.99 56.75v4.70M257.87 58.80h4.70M260.22 56.45v4.70M258.43 59.15h4.70M260.78 56.80v4.70M258.43 58.53h4.70M260.78 56.18v4.70M259.27 58.60h4.70M261.62 56.25v4.70M259.04 58.85h4.70M261.39 56.50v4.70M259.33 58.49h4.70M261.68 56.14v4.70M259.87 58.80h4.70M262.22 56.45v4.70M259.99 58.80h4.70M262.34 56.45v4.70M260.28 58.21h4.70M262.63 55.86v4.70M260.58 58.08h4.70M262.93 55.73v4.70M260.95 58.15h4.70M263.30 55.80v4.70M261.04 58.00h4.70M263.39 55.65v4.70M261.35 57.66h4.70M263.70 55.31v4.70M261.70 58.02h4.70M264.05 55.67v4.70M262.04 57.98h4.70M264.39 55.63v4.70M262.52 57.47h4.70M264.87 55.12v4.70M262.48 57.13h4.70M264.83 54.78v4.70M262.90 57.50h4.70M265.25 55.15v4.70M263.38 56.73h4.70M265.73 54.38v4.70M263.56 57.33h4.70M265.91 54.98v4.70M264.07 56.95h4.70M266.42 54.60v4.70M263.98 56.32h4.70M266.33 53.97v4.70M264.16 56.33h4.70M266.51 53.98v4.70M264.41 56.28h4.70M266.76 53.93v4.70M264.61 56.41h4.70M266.96 54.06v4.70M265.18 56.56h4.70M267.53 54.21v4.70M265.39 56.54h4.70M267.74 54.19v4.70M265.85 55.67h4.70M268.20 53.32v4.70M265.93 55.65h4.70M268.28 53.30v4.70M266.11 55.98h4.70M268.46 53.63v4.70M266.52 56.28h4.70M268.87 53.93v4.70M267.13 55.87h4.70M269.48 53.52v4.70M267.08 55.62h4.70M269.43 53.27v4.70M267.39 55.76h4.70M269.74 53.41v4.70M267.57 55.69h4.70M269.92 53.34v4.70M267.92 55.76h4.70M270.27 53.41v4.70M268.45 55.90h4.70M270.80 53.55v4.70M268.51 54.92h4.70M270.86 52.57v4.70M268.56 55.17h4.70M270.91 52.82v4.70M268.88 54.70h4.70M271.23 52.35v4.70M269.33 54.84h4.70M271.68 52.49v4.70M269.77 55.66h4.70M272.12 53.31v4.70M269.91 55.11h4.70M272.26 52.76v4.70M270.00 55.01h4.70M272.35 52.66v4.70M270.41 54.56h4.70M272.76 52.21v4.70M270.52 55.32h4.70M272.87 52.97v4.70M270.84 54.42h4.70M273.19 52.07v4.70M271.37 54.82h4.70M273.72 52.47v4.70M271.69 54.71h4.70M274.04 52.36v4.70M271.80 54.86h4.70M274.15 52.51v4.70M272.25 54.15h4.70M274.60 51.80v4.70M272.74 54.44h4.70M275.09 52.09v4.70M272.93 54.07h4.70M275.28 51.72v4.70M272.89 54.31h4.70M275.24 51.96v4.70M273.25 54.75h4.70M275.60 52.40v4.70M273.39 54.48h4.70M275.74 52.13v4.70M273.77 54.56h4.70M276.12 52.21v4.70M274.24 54.23h4.70M276.59 51.88v4.70M274.82 54.38h4.70M277.17 52.03v4.70M274.94 53.99h4.70M277.29 51.64v4.70M275.04 54.42h4.70M277.39 52.07v4.70M275.36 54.30h4.70M277.71 51.95v4.70M275.50 53.48h4.70M277.85 51.13v4.70M275.82 54.15h4.70M278.17 51.80v4.70M276.15 54.70h4.70M278.50 52.35v4.70M276.81 54.62h4.70M279.16 52.27v4.70M276.91 54.67h4.70M279.26 52.32v4.70M277.15 54.68h4.70M279.50 52.33v4.70M277.29 54.43h4.70M279.64 52.08v4.70M277.66 55.09h4.70M280.01 52.74v4.70M278.01 55.06h4.70M280.36 52.71v4.70M277.98 54.69h4.70M280.33 52.34v4.70M278.52 54.79h4.70M280.87 52.44v4.70M278.54 54.11h4.70M280.89 51.76v4.70M278.71 54.58h4.70M281.06 52.23v4.70M279.66 54.79h4.70M282.01 52.44v4.70M279.42 54.86h4.70M281.77 52.51v4.70M279.84 54.84h4.70M282.19 52.49v4.70M280.10 54.43h4.70M282.45 52.08v4.70M280.37 55.06h4.70M282.72 52.71v4.70M280.78 55.25h4.70M283.13 52.90v4.70M280.86 55.22h4.70M283.21 52.87v4.70M281.31 55.00h4.70M283.66 52.65v4.70M281.77 54.92h4.70M284.12 52.57v4.70M281.91 55.18h4.70M284.26 52.83v4.70M282.25 55.26h4.70M284.60 52.91v4.70M282.63 55.19h4.70M284.98 52.84v4.70M282.66 55.79h4.70M285.01 53.44v4.70M283.00 55.18h4.70M285.35 52.83v4.70M283.18 54.43h4.70M285.53 52.08v4.70M283.46 55.12h4.70M285.81 52.77v4.70M283.94 55.11h4.70M286.29 52.76v4.70M284.26 55.41h4.70M286.61 53.06v4.70M284.57 55.11h4.70M286.92 52.76v4.70M284.72 55.04h4.70M287.07 52.69v4.70M284.86 55.52h4.70M287.21 53.17v4.70M285.09 55.05h4.70M287.44 52.70v4.70M285.59 54.40h4.70M287.94 52.05v4.70M285.95 54.90h4.70M288.30 52.55v4.70M286.16 54.86h4.70M288.51 52.51v4.70M286.18 54.97h4.70M288.53 52.62v4.70M286.71 55.16h4.70M289.06 52.81v4.70M287.05 54.29h4.70M289.40 51.94v4.70M287.43 54.97h4.70M289.78 52.62v4.70M287.66 54.81h4.70M290.01 52.46v4.70M287.72 54.75h4.70M290.07 52.40v4.70M288.06 55.38h4.70M290.41 53.03v4.70M288.36 54.10h4.70M290.71 51.75v4.70M288.63 54.79h4.70M290.98 52.44v4.70M288.88 53.54h4.70M291.23 51.19v4.70M289.47 54.28h4.70M291.82 51.93v4.70M289.46 54.31h4.70M291.81 51.96v4.70M289.68 53.66h4.70M292.03 51.31v4.70M290.24 53.77h4.70M292.59 51.42v4.70M290.46 53.84h4.70M292.81 51.49v4.70M290.79 53.78h4.70M293.14 51.43v4.70M290.64 53.86h4.70M292.99 51.51v4.70M291.16 53.84h4.70M293.51 51.49v4.70M291.53 53.91h4.70M293.88 51.56v4.70M291.75 52.79h4.70M294.10 50.44v4.70M292.03 53.48h4.70M294.38 51.13v4.70M292.31 53.11h4.70M294.66 50.76v4.70M292.87 53.13h4.70M295.22 50.78v4.70M293.09 53.15h4.70M295.44 50.80v4.70M293.00 52.75h4.70M295.35 50.40v4.70M293.45 53.07h4.70M295.80 50.72v4.70M293.66 52.49h4.70M296.01 50.14v4.70M293.92 52.71h4.70M296.27 50.36v4.70M294.22 52.64h4.70M296.57 50.29v4.70M294.91 52.86h4.70M297.26 50.51v4.70M294.80 52.74h4.70M297.15 50.39v4.70M295.44 52.92h4.70M297.79 50.57v4.70M295.47 52.30h4.70M297.82 49.95v4.70M295.51 52.58h4.70M297.86 50.23v4.70M296.04 52.18h4.70M298.39 49.83v4.70M296.14 52.64h4.70M298.49 50.29v4.70M296.29 52.12h4.70M298.64 49.77v4.70M296.89 52.80h4.70M299.24 50.45v4.70M297.23 52.91h4.70M299.58 50.56v4.70M297.71 52.87h4.70M300.06 50.52v4.70M297.71 53.23h4.70M300.06 50.88v4.70M298.29 52.86h4.70M300.64 50.51v4.70M298.20 52.69h4.70M300.55 50.34v4.70M298.29 52.46h4.70M300.64 50.11v4.70M298.52 52.43h4.70M300.87 50.08v4.70M299.33 52.55h4.70M301.68 50.20v4.70M299.70 52.54h4.70M302.05 50.19v4.70M299.76 52.44h4.70M302.11 50.09v4.70M300.10 52.51h4.70M302.45 50.16v4.70M300.49 53.00h4.70M302.84 50.65v4.70M300.65 52.17h4.70M303.00 49.82v4.70M300.96 52.91h4.70M303.31 50.56v4.70M301.26 52.58h4.70M303.61 50.23v4.70M301.58 52.88h4.70M303.93 50.53v4.70M301.34 52.93h4.70M303.69 50.58v4.70M302.13 52.62h4.70M304.48 50.27v4.70M302.21 52.53h4.70M304.56 50.18v4.70M302.67 52.01h4.70M305.02 49.66v4.70M302.97 52.47h4.70M305.32 50.12v4.70M303.37 52.64h4.70M305.72 50.29v4.70M303.40 52.45h4.70M305.75 50.10v4.70M303.81 52.47h4.70M306.16 50.12v4.70M304.08 52.20h4.70M306.43 49.85v4.70M304.09 52.24h4.70M306.44 49.89v4.70M304.35 52.16h4.70M306.70 49.81v4.70M304.90 51.90h4.70M307.25 49.55v4.70M304.95 52.60h4.70M307.30 50.25v4.70M305.33 52.36h4.70M307.68 50.01v4.70M305.51 52.04h4.70M307.86 49.69v4.70M305.94 52.83h4.70M308.29 50.48v4.70M306.33 51.83h4.70M308.68 49.48v4.70M306.62 52.60h4.70M308.97 50.25v4.70M306.94 51.94h4.70M309.29 49.59v4.70M307.11 52.93h4.70M309.46 50.58v4.70M307.26 52.38h4.70M309.61 50.03v4.70M307.57 51.88h4.70M309.92 49.53v4.70M307.90 52.56h4.70M310.25 50.21v4.70M308.42 51.97h4.70M310.77 49.62v4.70M308.46 51.95h4.70M310.81 49.60v4.70M308.51 52.39h4.70M310.86 50.04v4.70M309.33 52.64h4.70M311.68 50.29v4.70M309.31 52.58h4.70M311.66 50.23v4.70M309.83 52.06h4.70M312.18 49.71v4.70M309.95 52.04h4.70M312.30 49.69v4.70M310.27 52.68h4.70M312.62 50.33v4.70M310.38 51.76h4.70M312.73 49.41v4.70M310.93 52.12h4.70M313.28 49.77v4.70M310.80 51.78h4.70M313.15 49.43v4.70M311.25 51.88h4.70M313.60 49.53v4.70M311.70 52.35h4.70M314.05 50.00v4.70M311.91 52.08h4.70M314.26 49.73v4.70M312.11 52.32h4.70M314.46 49.97v4.70M312.71 51.91h4.70M315.06 49.56v4.70M312.68 52.60h4.70M315.03 50.25v4.70M313.21 51.69h4.70M315.56 49.34v4.70M313.10 51.85h4.70M315.45 49.50v4.70M313.82 51.75h4.70M316.17 49.40v4.70M313.89 51.74h4.70M316.24 49.39v4.70M314.31 52.29h4.70M316.66 49.94v4.70M314.30 51.76h4.70M316.65 49.41v4.70M314.75 51.63h4.70M317.10 49.28v4.70M314.88 52.04h4.70M317.23 49.69v4.70M315.37 51.99h4.70M317.72 49.64v4.70M315.85 51.64h4.70M318.20 49.29v4.70M315.99 51.60h4.70M318.34 49.25v4.70M316.18 51.79h4.70M318.53 49.44v4.70M316.45 51.21h4.70M318.80 48.86v4.70M316.99 51.68h4.70M319.34 49.33v4.70M316.87 50.94h4.70M319.22 48.59v4.70M317.33 51.77h4.70M319.68 49.42v4.70M317.76 51.88h4.70M320.11 49.53v4.70M317.84 51.70h4.70M320.19 49.35v4.70M317.95 51.51h4.70M320.30 49.16v4.70M318.60 51.23h4.70M320.95 48.88v4.70M318.72 51.38h4.70M321.07 49.03v4.70M319.05 51.73h4.70M321.40 49.38v4.70M319.15 51.60h4.70M321.50 49.25v4.70M319.41 50.92h4.70M321.76 48.57v4.70M319.77 51.01h4.70M322.12 48.66v4.70M320.09 51.09h4.70M322.44 48.74v4.70M320.45 51.51h4.70M322.80 49.16v4.70M320.79 50.68h4.70M323.14 48.33v4.70M321.07 50.85h4.70M323.42 48.50v4.70M321.27 50.24h4.70M323.62 47.89v4.70M321.46 50.54h4.70M323.81 48.19v4.70M321.99 50.55h4.70M324.34 48.20v4.70M322.14 50.50h4.70M324.49 48.15v4.70M322.36 50.34h4.70M324.71 47.99v4.70M322.93 50.53h4.70M325.28 48.18v4.70M323.21 50.03h4.70M325.56 47.68v4.70M323.32 49.79h4.70M325.67 47.44v4.70M323.71 49.93h4.70M326.06 47.58v4.70M323.65 49.89h4.70M326.00 47.54v4.70M324.17 49.36h4.70M326.52 47.01v4.70M324.21 50.34h4.70M326.56 47.99v4.70M324.72 50.07h4.70M327.07 47.72v4.70M324.74 50.64h4.70M327.09 48.29v4.70M325.42 50.48h4.70M327.77 48.13v4.70M325.39 50.57h4.70M327.74 48.22v4.70M326.01 50.45h4.70M328.36 48.10v4.70M326.08 50.57h4.70M328.43 48.22v4.70M326.49 50.82h4.70M328.84 48.47v4.70M326.64 50.65h4.70M328.99 48.30v4.70M326.72 51.57h4.70M329.07 49.22v4.70M327.49 51.76h4.70M329.84 49.41v4.70M327.75 51.61h4.70M330.10 49.26v4.70M327.81 52.24h4.70M330.16 49.89v4.70M328.08 53.03h4.70M330.43 50.68v4.70M328.05 52.58h4.70M330.40 50.23v4.70M328.34 52.77h4.70M330.69 50.42v4.70M328.66 52.61h4.70M331.01 50.26v4.70M328.84 53.73h4.70M331.19 51.38v4.70M328.86 54.12h4.70M331.21 51.77v4.70M329.31 54.00h4.70M331.66 51.65v4.70M329.21 54.30h4.70M331.56 51.95v4.70M329.32 54.28h4.70M331.67 51.93v4.70M329.27 54.87h4.70M331.62 52.52v4.70M329.45 55.23h4.70M331.80 52.88v4.70M329.79 55.09h4.70M332.14 52.74v4.70M329.86 55.53h4.70M332.21 53.18v4.70M329.93 56.14h4.70M332.28 53.79v4.70M330.10 56.18h4.70M332.45 53.83v4.70M329.94 56.62h4.70M332.29 54.27v4.70M330.16 56.66h4.70M332.51 54.31v4.70M330.76 57.67h4.70M333.11 55.32v4.70M330.60 57.14h4.70M332.95 54.79v4.70M330.86 57.81h4.70M333.21 55.46v4.70M330.99 58.00h4.70M333.34 55.65v4.70M331.25 59.38h4.70M333.60 57.03v4.70M331.01 59.23h4.70M333.36 56.88v4.70M331.27 60.25h4.70M333.62 57.90v4.70M331.19 60.57h4.70M333.54 58.22v4.70M331.56 60.75h4.70M333.91 58.40v4.70M331.82 60.88h4.70M334.17 58.53v4.70M331.62 61.71h4.70M333.97 59.36v4.70M332.04 62.32h4.70M334.39 59.97v4.70M331.93 63.03h4.70M334.28 60.68v4.70M332.09 63.15h4.70M334.44 60.80v4.70M332.26 63.98h4.70M334.61 61.63v4.70M332.85 64.08h4.70M335.20 61.73v4.70M332.63 64.89h4.70M334.98 62.54v4.70M332.69 65.91h4.70M335.04 63.56v4.70M332.99 66.17h4.70M335.34 63.82v4.70M332.95 66.22h4.70M335.30 63.87v4.70M333.20 66.90h4.70M335.55 64.55v4.70M333.22 67.70h4.70M335.57 65.35v4.70M333.26 67.78h4.70M335.61 65.43v4.70M333.70 68.48h4.70M336.05 66.13v4.70M333.83 68.76h4.70M336.18 66.41v4.70M333.97 69.31h4.70M336.32 66.96v4.70M334.21 70.27h4.70M336.56 67.92v4.70M334.22 71.01h4.70M336.57 68.66v4.70M334.35 70.88h4.70M336.70 68.53v4.70M334.67 71.69h4.70M337.02 69.34v4.70M334.76 72.16h4.70M337.11 69.81v4.70M334.90 72.38h4.70M337.25 70.03v4.70M334.67 72.74h4.70M337.02 70.39v4.70M335.12 73.10h4.70M337.47 70.75v4.70M334.88 73.80h4.70M337.23 71.45v4.70M335.33 74.89h4.70M337.68 72.54v4.70M335.31 75.52h4.70M337.66 73.17v4.70M335.62 76.18h4.70M337.97 73.83v4.70M335.86 76.14h4.70M338.21 73.79v4.70M335.89 76.83h4.70M338.24 74.48v4.70M336.07 77.46h4.70M338.42 75.11v4.70M336.15 78.14h4.70M338.50 75.79v4.70M336.29 78.68h4.70M338.64 76.33v4.70M336.43 78.94h4.70M338.78 76.59v4.70M336.71 79.80h4.70M339.06 77.45v4.70M336.90 80.24h4.70M339.25 77.89v4.70M336.82 80.64h4.70M339.17 78.29v4.70M337.02 80.58h4.70M339.37 78.23v4.70M336.97 82.10h4.70M339.32 79.75v4.70M337.27 81.31h4.70M339.62 78.96v4.70M337.40 82.74h4.70M339.75 80.39v4.70M337.38 83.89h4.70M339.73 81.54v4.70M337.87 83.97h4.70M340.22 81.62v4.70M337.82 84.38h4.70M340.17 82.03v4.70M338.11 84.88h4.70M340.46 82.53v4.70M338.03 85.29h4.70M340.38 82.94v4.70M338.29 85.82h4.70M340.64 83.47v4.70M338.26 86.30h4.70M340.61 83.95v4.70M338.55 86.77h4.70M340.90 84.42v4.70M338.72 86.76h4.70M341.07 84.41v4.70M338.96 87.89h4.70M341.31 85.54v4.70M338.78 88.12h4.70M341.13 85.77v4.70M338.99 88.48h4.70M341.34 86.13v4.70M339.41 89.25h4.70M341.76 86.90v4.70M339.70 89.58h4.70M342.05 87.23v4.70M339.37 90.05h4.70M341.72 87.70v4.70M339.32 91.01h4.70M341.67 88.66v4.70M339.86 91.06h4.70M342.21 88.71v4.70M339.99 91.12h4.70M342.34 88.77v4.70M340.09 91.59h4.70M342.44 89.24v4.70M340.17 92.37h4.70M342.52 90.02v4.70M340.75 38.30h4.70M343.10 35.95v4.70M340.80 53.30h4.70M343.15 50.95v4.70M340.85 56.50h4.70M343.20 54.15v4.70M340.90 59.30h4.70M343.25 56.95v4.70M340.95 62.00h4.70M343.30 59.65v4.70M341.00 64.80h4.70M343.35 62.45v4.70M341.05 67.50h4.70M343.40 65.15v4.70M341.15 70.00h4.70M343.50 67.65v4.70M341.25 72.50h4.70M343.60 70.15v4.70M341.35 75.00h4.70M343.70 72.65v4.70M341.50 77.00h4.70M343.85 74.65v4.70M341.48 79.32h4.70M343.83 76.97v4.70M341.62 79.81h4.70M343.97 77.46v4.70M341.79 79.85h4.70M344.14 77.50v4.70M342.06 80.83h4.70M344.41 78.48v4.70M342.08 81.21h4.70M344.43 78.86v4.70M342.16 81.89h4.70M344.51 79.54v4.70M342.32 82.21h4.70M344.67 79.86v4.70M342.70 82.01h4.70M345.05 79.66v4.70M342.73 81.89h4.70M345.08 79.54v4.70M342.84 81.32h4.70M345.19 78.97v4.70M343.06 81.33h4.70M345.41 78.98v4.70M343.22 80.37h4.70M345.57 78.02v4.70M343.48 80.56h4.70M345.83 78.21v4.70M343.53 79.43h4.70M345.88 77.08v4.70M343.51 79.75h4.70M345.86 77.40v4.70M344.01 78.71h4.70M346.36 76.36v4.70M343.73 78.33h4.70M346.08 75.98v4.70M344.00 77.85h4.70M346.35 75.50v4.70M344.00 76.90h4.70M346.35 74.55v4.70M344.17 76.44h4.70M346.52 74.09v4.70M344.22 75.99h4.70M346.57 73.64v4.70M344.37 74.99h4.70M346.72 72.64v4.70M344.63 74.88h4.70M346.98 72.53v4.70M344.37 74.26h4.70M346.72 71.91v4.70M344.84 73.79h4.70M347.19 71.44v4.70M345.27 73.02h4.70M347.62 70.67v4.70M345.11 72.17h4.70M347.46 69.82v4.70M345.03 71.95h4.70M347.38 69.60v4.70M345.37 71.48h4.70M347.72 69.13v4.70M345.60 71.27h4.70M347.95 68.92v4.70M345.77 70.49h4.70M348.12 68.14v4.70M345.81 69.79h4.70M348.16 67.44v4.70M345.90 69.60h4.70M348.25 67.25v4.70M345.89 67.94h4.70M348.24 65.59v4.70M345.98 69.11h4.70M348.33 66.76v4.70M346.17 67.57h4.70M348.52 65.22v4.70M346.32 67.52h4.70M348.67 65.17v4.70M346.46 66.56h4.70M348.81 64.21v4.70M346.34 65.96h4.70M348.69 63.61v4.70M346.46 65.60h4.70M348.81 63.25v4.70M346.98 65.26h4.70M349.33 62.91v4.70M346.78 64.12h4.70M349.13 61.77v4.70M346.77 64.02h4.70M349.12 61.67v4.70M347.18 63.60h4.70M349.53 61.25v4.70M347.26 62.47h4.70M349.61 60.12v4.70M347.03 62.64h4.70M349.38 60.29v4.70M347.31 62.35h4.70M349.66 60.00v4.70M347.23 60.94h4.70M349.58 58.59v4.70M347.52 60.84h4.70M349.87 58.49v4.70M347.87 60.09h4.70M350.22 57.74v4.70M347.98 59.38h4.70M350.33 57.03v4.70M347.93 58.93h4.70M350.28 56.58v4.70M348.03 58.63h4.70M350.38 56.28v4.70M348.27 59.40h4.70M350.62 57.05v4.70M348.16 57.77h4.70M350.51 55.42v4.70M348.61 57.31h4.70M350.96 54.96v4.70M348.86 56.45h4.70M351.21 54.10v4.70M348.91 55.99h4.70M351.26 53.64v4.70M349.06 55.76h4.70M351.41 53.41v4.70M349.11 55.04h4.70M351.46 52.69v4.70M348.94 54.39h4.70M351.29 52.04v4.70M349.47 54.17h4.70M351.82 51.82v4.70M349.61 53.40h4.70M351.96 51.05v4.70M349.74 53.66h4.70M352.09 51.31v4.70M349.45 53.04h4.70M351.80 50.69v4.70M350.22 52.32h4.70M352.57 49.97v4.70M350.22 52.18h4.70M352.57 49.83v4.70M350.34 51.67h4.70M352.69 49.32v4.70M350.24 51.29h4.70M352.59 48.94v4.70M350.44 50.88h4.70M352.79 48.53v4.70M350.51 51.04h4.70M352.86 48.69v4.70M350.69 50.00h4.70M353.04 47.65v4.70M350.78 50.18h4.70M353.13 47.83v4.70M350.73 49.86h4.70M353.08 47.51v4.70M351.31 49.79h4.70M353.66 47.44v4.70M351.28 48.87h4.70M353.63 46.52v4.70M351.52 48.89h4.70M353.87 46.54v4.70M351.83 48.61h4.70M354.18 46.26v4.70M351.71 47.96h4.70M354.06 45.61v4.70M351.88 48.17h4.70M354.23 45.82v4.70M352.38 47.79h4.70M354.73 45.44v4.70M352.68 47.77h4.70M355.03 45.42v4.70M352.65 46.72h4.70M355.00 44.37v4.70M352.95 46.69h4.70M355.30 44.34v4.70M353.21 46.69h4.70M355.56 44.34v4.70M353.72 46.60h4.70M356.07 44.25v4.70M353.94 45.91h4.70M356.29 43.56v4.70M354.25 45.61h4.70M356.60 43.26v4.70M354.49 45.51h4.70M356.84 43.16v4.70M354.93 44.80h4.70M357.28 42.45v4.70M355.16 45.74h4.70M357.51 43.39v4.70M355.31 45.46h4.70M357.66 43.11v4.70M355.63 45.65h4.70M357.98 43.30v4.70M356.13 45.19h4.70M358.48 42.84v4.70M356.42 44.94h4.70M358.77 42.59v4.70M356.52 45.23h4.70M358.87 42.88v4.70M356.55 45.21h4.70M358.90 42.86v4.70M356.92 45.40h4.70M359.27 43.05v4.70M357.17 44.72h4.70M359.52 42.37v4.70M357.39 45.38h4.70M359.74 43.03v4.70M357.92 45.62h4.70M360.27 43.27v4.70M358.04 45.91h4.70M360.39 43.56v4.70M358.36 45.77h4.70M360.71 43.42v4.70M358.87 45.94h4.70M361.22 43.59v4.70M358.72 46.35h4.70M361.07 44.00v4.70M359.29 46.15h4.70M361.64 43.80v4.70M359.77 46.22h4.70M362.12 43.87v4.70M359.95 46.61h4.70M362.30 44.26v4.70M360.53 46.20h4.70M362.88 43.85v4.70M360.45 47.01h4.70M362.80 44.66v4.70M360.87 46.94h4.70M363.22 44.59v4.70M360.90 47.63h4.70M363.25 45.28v4.70M361.21 47.42h4.70M363.56 45.07v4.70M361.55 47.54h4.70M363.90 45.19v4.70M361.64 47.32h4.70M363.99 44.97v4.70M362.12 47.53h4.70M364.47 45.18v4.70M362.57 47.64h4.70M364.92 45.29v4.70M362.78 47.45h4.70M365.13 45.10v4.70M363.16 47.26h4.70M365.51 44.91v4.70M363.25 46.96h4.70M365.60 44.61v4.70M363.39 47.61h4.70M365.74 45.26v4.70M363.82 46.75h4.70M366.17 44.40v4.70M364.10 47.17h4.70M366.45 44.82v4.70M364.22 47.28h4.70M366.57 44.93v4.70M364.64 47.11h4.70M366.99 44.76v4.70M365.10 46.85h4.70M367.45 44.50v4.70M365.41 46.88h4.70M367.76 44.53v4.70M365.49 47.27h4.70M367.84 44.92v4.70M365.87 46.68h4.70M368.22 44.33v4.70M366.08 46.78h4.70M368.43 44.43v4.70M366.16 46.83h4.70M368.51 44.48v4.70M366.66 46.17h4.70M369.01 43.82v4.70M366.80 46.73h4.70M369.15 44.38v4.70M367.04 47.04h4.70M369.39 44.69v4.70M367.35 46.39h4.70M369.70 44.04v4.70M367.41 46.23h4.70M369.76 43.88v4.70M368.00 46.33h4.70M370.35 43.98v4.70M368.39 46.03h4.70M370.74 43.68v4.70M368.97 46.31h4.70M371.32 43.96v4.70M368.82 46.13h4.70M371.17 43.78v4.70M368.78 45.79h4.70M371.13 43.44v4.70M369.68 45.74h4.70M372.03 43.39v4.70M369.80 45.51h4.70M372.15 43.16v4.70M370.18 45.83h4.70M372.53 43.48v4.70M370.34 46.02h4.70M372.69 43.67v4.70M370.87 45.92h4.70M373.22 43.57v4.70M370.65 45.74h4.70M373.00 43.39v4.70M371.23 45.22h4.70M373.58 42.87v4.70M371.23 45.38h4.70M373.58 43.03v4.70M371.72 45.43h4.70M374.07 43.08v4.70M371.93 45.44h4.70M374.28 43.09v4.70M372.37 45.25h4.70M374.72 42.90v4.70M372.67 45.11h4.70M375.02 42.76v4.70M372.66 45.24h4.70M375.01 42.89v4.70M373.31 46.00h4.70M375.66 43.65v4.70M373.14 45.00h4.70M375.49 42.65v4.70M373.61 45.20h4.70M375.96 42.85v4.70M373.90 45.12h4.70M376.25 42.77v4.70M374.46 44.83h4.70M376.81 42.48v4.70M374.58 45.51h4.70M376.93 43.16v4.70M375.01 44.52h4.70M377.36 42.17v4.70M375.47 44.79h4.70M377.82 42.44v4.70M375.49 44.86h4.70M377.84 42.51v4.70M375.66 44.78h4.70M378.01 42.43v4.70M376.11 44.76h4.70M378.46 42.41v4.70M376.11 44.83h4.70M378.46 42.48v4.70M376.58 44.42h4.70M378.93 42.07v4.70M376.98 44.83h4.70M379.33 42.48v4.70M377.26 45.49h4.70M379.61 43.14v4.70M377.48 45.27h4.70M379.83 42.92v4.70M377.65 44.95h4.70M380.00 42.60v4.70M377.72 45.14h4.70M380.07 42.79v4.70M378.20 44.54h4.70M380.55 42.19v4.70M378.61 45.77h4.70M380.96 43.42v4.70M378.91 45.72h4.70M381.26 43.37v4.70M379.09 45.13h4.70M381.44 42.78v4.70M379.43 45.39h4.70M381.78 43.04v4.70M379.53 45.87h4.70M381.88 43.52v4.70M380.01 45.44h4.70M382.36 43.09v4.70M380.30 45.66h4.70M382.65 43.31v4.70M380.65 46.25h4.70M383.00 43.90v4.70M380.74 45.49h4.70M383.09 43.14v4.70M381.33 46.63h4.70M383.68 44.28v4.70M381.31 45.71h4.70M383.66 43.36v4.70M381.51 46.05h4.70M383.86 43.70v4.70M381.99 46.04h4.70M384.34 43.69v4.70M382.38 45.94h4.70M384.73 43.59v4.70M382.45 45.88h4.70M384.80 43.53v4.70M383.03 46.63h4.70M385.38 44.28v4.70M383.30 46.12h4.70M385.65 43.77v4.70M383.59 46.51h4.70M385.94 44.16v4.70M383.78 46.65h4.70M386.13 44.30v4.70M383.91 46.47h4.70M386.26 44.12v4.70M384.01 46.39h4.70M386.36 44.04v4.70M384.49 46.24h4.70M386.84 43.89v4.70M384.82 47.00h4.70M387.17 44.65v4.70M385.02 46.36h4.70M387.37 44.01v4.70M385.25 46.74h4.70M387.60 44.39v4.70M385.92 46.76h4.70M388.27 44.41v4.70M385.95 46.37h4.70M388.30 44.02v4.70M386.28 46.96h4.70M388.63 44.61v4.70M386.45 46.79h4.70M388.80 44.44v4.70M386.70 47.05h4.70M389.05 44.70v4.70M387.28 46.97h4.70M389.63 44.62v4.70M387.44 46.91h4.70M389.79 44.56v4.70M387.55 46.69h4.70M389.90 44.34v4.70M387.87 46.98h4.70M390.22 44.63v4.70M388.21 47.27h4.70M390.56 44.92v4.70M388.61 47.44h4.70M390.96 45.09v4.70M388.90 46.95h4.70M391.25 44.60v4.70M389.08 46.56h4.70M391.43 44.21v4.70M389.60 46.89h4.70M391.95 44.54v4.70M389.57 47.63h4.70M391.92 45.28v4.70M389.75 46.92h4.70M392.10 44.57v4.70M390.19 46.95h4.70M392.54 44.60v4.70M390.50 47.21h4.70M392.85 44.86v4.70M390.86 47.12h4.70M393.21 44.77v4.70M391.15 47.07h4.70M393.50 44.72v4.70M391.42 47.53h4.70M393.77 45.18v4.70M391.36 47.12h4.70M393.71 44.77v4.70M391.93 46.63h4.70M394.28 44.28v4.70M391.73 47.29h4.70M394.08 44.94v4.70M392.37 47.43h4.70M394.72 45.08v4.70M392.75 47.19h4.70M395.10 44.84v4.70M392.98 47.22h4.70M395.33 44.87v4.70M393.18 47.02h4.70M395.53 44.67v4.70M393.72 47.08h4.70M396.07 44.73v4.70M393.96 47.14h4.70M396.31 44.79v4.70M394.12 46.82h4.70M396.47 44.47v4.70M394.58 46.83h4.70M396.93 44.48v4.70M394.79 46.58h4.70M397.14 44.23v4.70M395.06 47.13h4.70M397.41 44.78v4.70M395.21 46.49h4.70M397.56 44.14v4.70M395.56 46.96h4.70M397.91 44.61v4.70M395.79 46.68h4.70M398.14 44.33v4.70M396.29 46.81h4.70M398.64 44.46v4.70M396.38 47.04h4.70M398.73 44.69v4.70M396.72 46.53h4.70M399.07 44.18v4.70M397.14 46.58h4.70M399.49 44.23v4.70M397.43 46.44h4.70M399.78 44.09v4.70M397.62 46.96h4.70M399.97 44.61v4.70M397.92 46.69h4.70M400.27 44.34v4.70M398.21 46.74h4.70M400.56 44.39v4.70M398.44 46.57h4.70M400.79 44.22v4.70M398.67 46.96h4.70M401.02 44.61v4.70M398.86 46.58h4.70M401.21 44.23v4.70M399.13 46.45h4.70M401.48 44.10v4.70M399.75 45.92h4.70M402.10 43.57v4.70M400.10 45.92h4.70M402.45 43.57v4.70M400.00 46.26h4.70M402.35 43.91v4.70M400.25 46.42h4.70M402.60 44.07v4.70M400.77 45.29h4.70M403.12 42.94v4.70M400.76 45.84h4.70M403.11 43.49v4.70M401.32 45.71h4.70M403.67 43.36v4.70M401.44 46.17h4.70M403.79 43.82v4.70M401.68 46.04h4.70M404.03 43.69v4.70M401.91 46.21h4.70M404.26 43.86v4.70M402.60 45.53h4.70M404.95 43.18v4.70M402.33 45.34h4.70M404.68 42.99v4.70M403.10 45.63h4.70M405.45 43.28v4.70M403.40 45.36h4.70M405.75 43.01v4.70M403.39 45.69h4.70M405.74 43.34v4.70M403.97 45.62h4.70M406.32 43.27v4.70M403.94 45.73h4.70M406.29 43.38v4.70M404.39 45.76h4.70M406.74 43.41v4.70M404.63 45.39h4.70M406.98 43.04v4.70M404.95 44.81h4.70M407.30 42.46v4.70M405.27 45.87h4.70M407.62 43.52v4.70M405.59 45.20h4.70M407.94 42.85v4.70M405.57 45.84h4.70M407.92 43.49v4.70M406.00 45.36h4.70M408.35 43.01v4.70M406.39 45.22h4.70M408.74 42.87v4.70M406.65 45.82h4.70M409.00 43.47v4.70M406.86 45.92h4.70M409.21 43.57v4.70M407.27 45.43h4.70M409.62 43.08v4.70M407.64 45.59h4.70M409.99 43.24v4.70M407.94 45.47h4.70M410.29 43.12v4.70M407.98 45.78h4.70M410.33 43.43v4.70M408.33 45.05h4.70M410.68 42.70v4.70M408.76 45.49h4.70M411.11 43.14v4.70M408.91 45.32h4.70M411.26 42.97v4.70M409.28 45.88h4.70M411.63 43.53v4.70M409.47 44.96h4.70M411.82 42.61v4.70M409.68 45.51h4.70M412.03 43.16v4.70M410.02 45.20h4.70M412.37 42.85v4.70M410.44 45.66h4.70M412.79 43.31v4.70M410.59 45.57h4.70M412.94 43.22v4.70M410.81 45.36h4.70M413.16 43.01v4.70M411.13 45.20h4.70M413.48 42.85v4.70M411.52 45.64h4.70M413.87 43.29v4.70M411.67 45.76h4.70M414.02 43.41v4.70M412.05 45.57h4.70M414.40 43.22v4.70M412.23 45.62h4.70M414.58 43.27v4.70M412.80 45.43h4.70M415.15 43.08v4.70M412.87 46.24h4.70M415.22 43.89v4.70M413.00 45.78h4.70M415.35 43.43v4.70M413.30 45.59h4.70M415.65 43.24v4.70M413.90 46.11h4.70M416.25 43.76v4.70M413.84 46.05h4.70M416.19 43.70v4.70M414.31 46.20h4.70M416.66 43.85v4.70M414.44 46.50h4.70M416.79 44.15v4.70M414.72 46.28h4.70M417.07 43.93v4.70M415.16 46.22h4.70M417.51 43.87v4.70M415.43 46.28h4.70M417.78 43.93v4.70M416.10 46.38h4.70M418.45 44.03v4.70M416.09 46.28h4.70M418.44 43.93v4.70M416.10 46.51h4.70M418.45 44.16v4.70M416.50 46.45h4.70M418.85 44.10v4.70M416.83 46.81h4.70M419.18 44.46v4.70M417.40 47.14h4.70M419.75 44.79v4.70M417.41 47.08h4.70M419.76 44.73v4.70M417.94 46.34h4.70M420.29 43.99v4.70M417.89 46.49h4.70M420.24 44.14v4.70M418.54 46.46h4.70M420.89 44.11v4.70M418.49 46.90h4.70M420.84 44.55v4.70M418.79 46.42h4.70M421.14 44.07v4.70M419.18 46.50h4.70M421.53 44.15v4.70M419.02 46.06h4.70M421.37 43.71v4.70M419.77 45.98h4.70M422.12 43.63v4.70M420.13 46.36h4.70M422.48 44.01v4.70M420.27 46.44h4.70M422.62 44.09v4.70M420.25 46.12h4.70M422.60 43.77v4.70M420.64 46.37h4.70M422.99 44.02v4.70M421.31 46.20h4.70M423.66 43.85v4.70M421.37 45.66h4.70M423.72 43.31v4.70M421.59 46.13h4.70M423.94 43.78v4.70M421.90 46.35h4.70M424.25 44.00v4.70M422.42 46.13h4.70M424.77 43.78v4.70M422.56 45.64h4.70M424.91 43.29v4.70M422.87 46.08h4.70M425.22 43.73v4.70M422.81 46.13h4.70M425.16 43.78v4.70M423.25 46.28h4.70M425.60 43.93v4.70M423.70 45.93h4.70M426.05 43.58v4.70M424.17 45.77h4.70M426.52 43.42v4.70M424.15 45.72h4.70M426.50 43.37v4.70M424.50 45.34h4.70M426.85 42.99v4.70M424.85 45.59h4.70M427.20 43.24v4.70M424.97 44.85h4.70M427.32 42.50v4.70M425.52 45.56h4.70M427.87 43.21v4.70M425.76 45.30h4.70M428.11 42.95v4.70M426.18 44.95h4.70M428.53 42.60v4.70M426.44 44.64h4.70M428.79 42.29v4.70M426.35 44.52h4.70M428.70 42.17v4.70M426.72 44.48h4.70M429.07 42.13v4.70M427.32 44.29h4.70M429.67 41.94v4.70M427.49 44.62h4.70M429.84 42.27v4.70M427.89 43.85h4.70M430.24 41.50v4.70M427.81 44.29h4.70M430.16 41.94v4.70M428.03 42.95h4.70M430.38 40.60v4.70M428.18 43.69h4.70M430.53 41.34v4.70M428.54 43.13h4.70M430.89 40.78v4.70M429.02 43.46h4.70M431.37 41.11v4.70M429.12 42.97h4.70M431.47 40.62v4.70M429.66 43.28h4.70M432.01 40.93v4.70M429.86 42.84h4.70M432.21 40.49v4.70M430.14 42.99h4.70M432.49 40.64v4.70M430.60 42.45h4.70M432.95 40.10v4.70M430.83 42.03h4.70M433.18 39.68v4.70M431.04 42.11h4.70M433.39 39.76v4.70M431.25 42.59h4.70M433.60 40.24v4.70M431.92 42.26h4.70M434.27 39.91v4.70M431.86 42.01h4.70M434.21 39.66v4.70M432.28 41.97h4.70M434.63 39.62v4.70M432.60 42.40h4.70M434.95 40.05v4.70M432.83 41.74h4.70M435.18 39.39v4.70M433.13 41.57h4.70M435.48 39.22v4.70M433.04 42.04h4.70M435.39 39.69v4.70M433.87 42.02h4.70M436.22 39.67v4.70M433.82 40.55h4.70M436.17 38.20v4.70M434.04 41.68h4.70M436.39 39.33v4.70M434.38 41.85h4.70M436.73 39.50v4.70M434.60 41.52h4.70M436.95 39.17v4.70M435.04 41.40h4.70M437.39 39.05v4.70M435.07 41.24h4.70M437.42 38.89v4.70M435.61 41.11h4.70M437.96 38.76v4.70M435.66 41.05h4.70M438.01 38.70v4.70M435.99 41.26h4.70M438.34 38.91v4.70M436.56 41.23h4.70M438.91 38.88v4.70M436.76 41.05h4.70M439.11 38.70v4.70M437.01 40.49h4.70M439.36 38.14v4.70M437.28 41.32h4.70M439.63 38.97v4.70M437.47 41.24h4.70M439.82 38.89v4.70M437.61 41.03h4.70M439.96 38.68v4.70M438.09 41.14h4.70M440.44 38.79v4.70M438.42 41.65h4.70M440.77 39.30v4.70M438.21 40.53h4.70M440.56 38.18v4.70M438.87 40.98h4.70M441.22 38.63v4.70M439.15 40.74h4.70M441.50 38.39v4.70M439.30 40.52h4.70M441.65 38.17v4.70M439.69 41.37h4.70M442.04 39.02v4.70M439.98 41.73h4.70M442.33 39.38v4.70M440.55 40.80h4.70M442.90 38.45v4.70M440.79 41.19h4.70M443.14 38.84v4.70M440.77 40.38h4.70M443.12 38.03v4.70M441.46 40.56h4.70M443.81 38.21v4.70M441.65 41.04h4.70M444.00 38.69v4.70M441.55 41.02h4.70M443.90 38.67v4.70M442.17 41.19h4.70M444.52 38.84v4.70M442.37 40.93h4.70M444.72 38.58v4.70M442.71 40.70h4.70M445.06 38.35v4.70M443.19 41.04h4.70M445.54 38.69v4.70M443.45 40.83h4.70M445.80 38.48v4.70M443.68 40.42h4.70M446.03 38.07v4.70M443.70 40.98h4.70M446.05 38.63v4.70M444.04 40.53h4.70M446.39 38.18v4.70M444.38 40.14h4.70M446.73 37.79v4.70M444.67 40.73h4.70M447.02 38.38v4.70M444.88 40.19h4.70M447.23 37.84v4.70M445.47 40.60h4.70M447.82 38.25v4.70M445.34 40.21h4.70M447.69 37.86v4.70M445.53 39.77h4.70M447.88 37.42v4.70M445.77 39.93h4.70M448.12 37.58v4.70M446.41 40.29h4.70M448.76 37.94v4.70M446.61 40.25h4.70M448.96 37.90v4.70M446.99 39.46h4.70M449.34 37.11v4.70M447.07 39.76h4.70M449.42 37.41v4.70M447.58 39.86h4.70M449.93 37.51v4.70M447.55 38.81h4.70M449.90 36.46v4.70M448.35 39.17h4.70M450.70 36.82v4.70M448.48 39.13h4.70M450.83 36.78v4.70M448.40 39.42h4.70M450.75 37.07v4.70M448.97 39.31h4.70M451.32 36.96v4.70M449.27 38.43h4.70M451.62 36.08v4.70M449.46 38.88h4.70M451.81 36.53v4.70M449.64 38.49h4.70M451.99 36.14v4.70M450.21 37.91h4.70M452.56 35.56v4.70M450.26 38.17h4.70M452.61 35.82v4.70M450.74 37.93h4.70M453.09 35.58v4.70M450.78 37.97h4.70M453.13 35.62v4.70M451.08 37.77h4.70M453.43 35.42v4.70M451.51 37.43h4.70M453.86 35.08v4.70M451.86 37.69h4.70M454.21 35.34v4.70M451.82 37.34h4.70M454.17 34.99v4.70M452.28 36.95h4.70M454.63 34.60v4.70M452.60 37.26h4.70M454.95 34.91v4.70M452.85 36.69h4.70M455.20 34.34v4.70M452.97 36.62h4.70M455.32 34.27v4.70M453.44 36.27h4.70M455.79 33.92v4.70M453.68 36.60h4.70M456.03 34.25v4.70M454.22 36.27h4.70M456.57 33.92v4.70M454.59 36.56h4.70M456.94 34.21v4.70M454.71 36.34h4.70M457.06 33.99v4.70M454.88 35.88h4.70M457.23 33.53v4.70M455.14 36.00h4.70M457.49 33.65v4.70M455.45 36.35h4.70M457.80 34.00v4.70M456.01 35.97h4.70M458.36 33.62v4.70M456.15 35.51h4.70M458.50 33.16v4.70M455.98 35.61h4.70M458.33 33.26v4.70M456.60 35.97h4.70M458.95 33.62v4.70M457.21 35.55h4.70M459.56 33.20v4.70M457.33 35.73h4.70M459.68 33.38v4.70M457.45 35.57h4.70M459.80 33.22v4.70M457.76 35.71h4.70M460.11 33.36v4.70M457.83 34.47h4.70M460.18 32.12v4.70M458.29 35.37h4.70M460.64 33.02v4.70M458.71 34.85h4.70M461.06 32.50v4.70M458.92 34.76h4.70M461.27 32.41v4.70M459.23 34.66h4.70M461.58 32.31v4.70M459.25 35.10h4.70M461.60 32.75v4.70M459.50 34.31h4.70M461.85 31.96v4.70M460.09 34.72h4.70M462.44 32.37v4.70M459.91 34.98h4.70M462.26 32.63v4.70M460.36 34.43h4.70M462.71 32.08v4.70M460.81 35.11h4.70M463.16 32.76v4.70M461.11 34.72h4.70M463.46 32.37v4.70M461.37 34.55h4.70M463.72 32.20v4.70M461.47 34.33h4.70M463.82 31.98v4.70M461.87 33.97h4.70M464.22 31.62v4.70M462.29 34.53h4.70M464.64 32.18v4.70M462.60 34.06h4.70M464.95 31.71v4.70M462.92 33.77h4.70M465.27 31.42v4.70M463.14 34.20h4.70M465.49 31.85v4.70M463.37 33.91h4.70M465.72 31.56v4.70M463.68 33.76h4.70M466.03 31.41v4.70M463.91 34.10h4.70M466.26 31.75v4.70M463.94 34.21h4.70M466.29 31.86v4.70M464.58 33.85h4.70M466.93 31.50v4.70M464.65 33.62h4.70M467.00 31.27v4.70M464.99 33.91h4.70M467.34 31.56v4.70M465.46 34.02h4.70M467.81 31.67v4.70M465.65 33.04h4.70M468.00 30.69v4.70M465.78 33.52h4.70M468.13 31.17v4.70M466.26 33.16h4.70M468.61 30.81v4.70M466.46 33.62h4.70M468.81 31.27v4.70M466.69 33.53h4.70M469.04 31.18v4.70M467.40 33.57h4.70M469.75 31.22v4.70M467.64 33.64h4.70M469.99 31.29v4.70M467.52 33.72h4.70M469.87 31.37v4.70M467.85 33.52h4.70M470.20 31.17v4.70M467.86 33.64h4.70M470.21 31.29v4.70M468.39 33.86h4.70M470.74 31.51v4.70M468.78 33.41h4.70M471.13 31.06v4.70M468.89 33.52h4.70M471.24 31.17v4.70M469.27 33.28h4.70M471.62 30.93v4.70M469.89 33.46h4.70M472.24 31.11v4.70M470.03 33.94h4.70M472.38 31.59v4.70M470.24 33.69h4.70M472.59 31.34v4.70M470.53 33.82h4.70M472.88 31.47v4.70M470.83 33.77h4.70M473.18 31.42v4.70M471.05 33.61h4.70M473.40 31.26v4.70M471.25 33.73h4.70M473.60 31.38v4.70M471.62 34.51h4.70M473.97 32.16v4.70M471.74 34.16h4.70M474.09 31.81v4.70M472.01 34.56h4.70M474.36 32.21v4.70M472.60 34.72h4.70M474.95 32.37v4.70M472.77 34.38h4.70M475.12 32.03v4.70M472.99 35.49h4.70M475.34 33.14v4.70M473.20 35.18h4.70M475.55 32.83v4.70M473.65 36.00h4.70M476.00 33.65v4.70M474.13 36.26h4.70M476.48 33.91v4.70M474.12 36.76h4.70M476.47 34.41v4.70M474.30 36.57h4.70M476.65 34.22v4.70M474.63 37.54h4.70M476.98 35.19v4.70M474.54 37.50h4.70M476.89 35.15v4.70M474.79 37.97h4.70M477.14 35.62v4.70M474.79 38.07h4.70M477.14 35.72v4.70M475.05 38.27h4.70M477.40 35.92v4.70M475.09 38.55h4.70M477.44 36.20v4.70M475.23 38.58h4.70M477.58 36.23v4.70M475.28 39.38h4.70M477.63 37.03v4.70M475.68 39.60h4.70M478.03 37.25v4.70M475.17 39.54h4.70M477.52 37.19v4.70M475.91 40.87h4.70M478.26 38.52v4.70M476.17 40.72h4.70M478.52 38.37v4.70M476.08 41.08h4.70M478.43 38.73v4.70M476.53 41.72h4.70M478.88 39.37v4.70M476.28 42.38h4.70M478.63 40.03v4.70M476.68 41.96h4.70M479.03 39.61v4.70M476.60 43.31h4.70M478.95 40.96v4.70M476.97 43.10h4.70M479.32 40.75v4.70M476.98 44.19h4.70M479.33 41.84v4.70M477.17 44.09h4.70M479.52 41.74v4.70M477.24 45.09h4.70M479.59 42.74v4.70M477.48 45.11h4.70M479.83 42.76v4.70M477.90 45.97h4.70M480.25 43.62v4.70M477.47 46.32h4.70M479.82 43.97v4.70M477.43 46.74h4.70M479.78 44.39v4.70M477.97 48.18h4.70M480.32 45.83v4.70M478.15 48.11h4.70M480.50 45.76v4.70M478.37 48.60h4.70M480.72 46.25v4.70M478.31 49.47h4.70M480.66 47.12v4.70M478.62 50.06h4.70M480.97 47.71v4.70M478.84 49.88h4.70M481.19 47.53v4.70M478.76 50.59h4.70M481.11 48.24v4.70M478.91 51.39h4.70M481.26 49.04v4.70M479.09 51.59h4.70M481.44 49.24v4.70M479.47 52.79h4.70M481.82 50.44v4.70M479.37 52.53h4.70M481.72 50.18v4.70M479.39 53.08h4.70M481.74 50.73v4.70M479.46 53.48h4.70M481.81 51.13v4.70M479.74 54.32h4.70M482.09 51.97v4.70M479.89 54.43h4.70M482.24 52.08v4.70M479.98 55.77h4.70M482.33 53.42v4.70M480.09 55.56h4.70M482.44 53.21v4.70M480.57 56.26h4.70M482.92 53.91v4.70M480.19 56.93h4.70M482.54 54.58v4.70M480.29 57.06h4.70M482.64 54.71v4.70M480.65 57.48h4.70M483.00 55.13v4.70M480.40 58.36h4.70M482.75 56.01v4.70M480.85 58.24h4.70M483.20 55.89v4.70M480.79 59.45h4.70M483.14 57.10v4.70M481.00 59.85h4.70M483.35 57.50v4.70M481.06 59.89h4.70M483.41 57.54v4.70M481.10 60.45h4.70M483.45 58.10v4.70M481.33 60.22h4.70M483.68 57.87v4.70M481.13 61.47h4.70M483.48 59.12v4.70M481.63 61.73h4.70M483.98 59.38v4.70M481.64 62.07h4.70M483.99 59.72v4.70M481.55 62.88h4.70M483.90 60.53v4.70M481.89 63.25h4.70M484.24 60.90v4.70M481.85 63.97h4.70M484.20 61.62v4.70M482.17 64.41h4.70M484.52 62.06v4.70M482.30 64.91h4.70M484.65 62.56v4.70M482.54 65.65h4.70M484.89 63.30v4.70M482.87 66.45h4.70M485.22 64.10v4.70M482.74 66.17h4.70M485.09 63.82v4.70M482.98 66.83h4.70M485.33 64.48v4.70M483.25 67.05h4.70M485.60 64.70v4.70M483.11 68.40h4.70M485.46 66.05v4.70M483.31 68.62h4.70M485.66 66.27v4.70M483.55 68.73h4.70M485.90 66.38v4.70M483.72 69.07h4.70M486.07 66.72v4.70M483.69 70.41h4.70M486.04 68.06v4.70M483.85 70.36h4.70M486.20 68.01v4.70M483.86 71.11h4.70M486.21 68.76v4.70M484.03 70.98h4.70M486.38 68.63v4.70M484.21 71.39h4.70M486.56 69.04v4.70M484.24 72.05h4.70M486.59 69.70v4.70M484.51 72.57h4.70M486.86 70.22v4.70M484.58 72.81h4.70M486.93 70.46v4.70M484.82 73.54h4.70M487.17 71.19v4.70M484.87 74.00h4.70M487.22 71.65v4.70M485.12 74.79h4.70M487.47 72.44v4.70M485.39 75.09h4.70M487.74 72.74v4.70M485.58 75.23h4.70M487.93 72.88v4.70M486.05 21.10h4.70M488.40 18.75v4.70M486.10 36.90h4.70M488.45 34.55v4.70M486.15 39.50h4.70M488.50 37.15v4.70M486.20 42.00h4.70M488.55 39.65v4.70M486.25 44.50h4.70M488.60 42.15v4.70M486.30 47.00h4.70M488.65 44.65v4.70M486.35 49.50h4.70M488.70 47.15v4.70M486.45 52.00h4.70M488.80 49.65v4.70M486.55 54.50h4.70M488.90 52.15v4.70M486.65 57.00h4.70M489.00 54.65v4.70M486.80 59.00h4.70M489.15 56.65v4.70M487.15 60.56h4.70M489.50 58.21v4.70M486.99 61.14h4.70M489.34 58.79v4.70M487.02 62.02h4.70M489.37 59.67v4.70M487.33 61.50h4.70M489.68 59.15v4.70M487.27 62.21h4.70M489.62 59.86v4.70M487.49 62.84h4.70M489.84 60.49v4.70M487.85 63.33h4.70M490.20 60.98v4.70M487.94 63.05h4.70M490.29 60.70v4.70M488.16 63.88h4.70M490.51 61.53v4.70M488.00 63.37h4.70M490.35 61.02v4.70M488.52 62.77h4.70M490.87 60.42v4.70M488.86 62.73h4.70M491.21 60.38v4.70M488.86 61.79h4.70M491.21 59.44v4.70M488.69 61.42h4.70M491.04 59.07v4.70M489.01 60.99h4.70M491.36 58.64v4.70M488.97 60.37h4.70M491.32 58.02v4.70M489.35 60.44h4.70M491.70 58.09v4.70M489.48 59.76h4.70M491.83 57.41v4.70M489.69 59.27h4.70M492.04 56.92v4.70M490.02 58.50h4.70M492.37 56.15v4.70M490.01 57.78h4.70M492.36 55.43v4.70M490.27 57.92h4.70M492.62 55.57v4.70M490.35 57.28h4.70M492.70 54.93v4.70M490.31 56.42h4.70M492.66 54.07v4.70M490.51 56.63h4.70M492.86 54.28v4.70M490.20 56.19h4.70M492.55 53.84v4.70M490.63 55.26h4.70M492.98 52.91v4.70M490.77 54.51h4.70M493.12 52.16v4.70M491.12 54.04h4.70M493.47 51.69v4.70M491.38 53.65h4.70M493.73 51.30v4.70M491.33 53.00h4.70M493.68 50.65v4.70M491.27 52.61h4.70M493.62 50.26v4.70M491.53 52.75h4.70M493.88 50.40v4.70M491.58 51.43h4.70M493.93 49.08v4.70M491.60 50.95h4.70M493.95 48.60v4.70M491.87 50.91h4.70M494.22 48.56v4.70M491.78 50.23h4.70M494.13 47.88v4.70M492.19 50.01h4.70M494.54 47.66v4.70M492.08 49.64h4.70M494.43 47.29v4.70M492.34 48.80h4.70M494.69 46.45v4.70M492.42 49.05h4.70M494.77 46.70v4.70M492.35 48.34h4.70M494.70 45.99v4.70M492.60 47.77h4.70M494.95 45.42v4.70M492.82 47.11h4.70M495.17 44.76v4.70M492.88 46.48h4.70M495.23 44.13v4.70M493.15 46.07h4.70M495.50 43.72v4.70M492.98 45.55h4.70M495.33 43.20v4.70M493.52 45.18h4.70M495.87 42.83v4.70M493.50 43.89h4.70M495.85 41.54v4.70M493.70 44.15h4.70M496.05 41.80v4.70M493.97 43.21h4.70M496.32 40.86v4.70M493.86 42.88h4.70M496.21 40.53v4.70M494.00 42.08h4.70M496.35 39.73v4.70M494.11 42.01h4.70M496.46 39.66v4.70M494.27 42.16h4.70M496.62 39.81v4.70M494.37 41.13h4.70M496.72 38.78v4.70M494.77 40.66h4.70M497.12 38.31v4.70M494.92 40.50h4.70M497.27 38.15v4.70M494.80 39.71h4.70M497.15 37.36v4.70M495.05 39.40h4.70M497.40 37.05v4.70M495.19 38.83h4.70M497.54 36.48v4.70M495.40 38.36h4.70M497.75 36.01v4.70M495.39 38.08h4.70M497.74 35.73v4.70M495.41 37.64h4.70M497.76 35.29v4.70M495.71 36.94h4.70M498.06 34.59v4.70M495.62 37.40h4.70M497.97 35.05v4.70M495.98 36.70h4.70M498.33 34.35v4.70M496.07 36.92h4.70M498.42 34.57v4.70M496.28 35.65h4.70M498.63 33.30v4.70M496.52 35.61h4.70M498.87 33.26v4.70M496.65 35.58h4.70M499.00 33.23v4.70M496.92 35.50h4.70M499.27 33.15v4.70M496.82 35.54h4.70M499.17 33.19v4.70M497.42 34.74h4.70M499.77 32.39v4.70M497.32 34.79h4.70M499.67 32.44v4.70M497.51 33.96h4.70M499.86 31.61v4.70M497.58 34.49h4.70M499.93 32.14v4.70M498.03 33.76h4.70M500.38 31.41v4.70M498.56 34.15h4.70M500.91 31.80v4.70M498.69 33.39h4.70M501.04 31.04v4.70M498.86 34.01h4.70M501.21 31.66v4.70M498.85 33.02h4.70M501.20 30.67v4.70M499.31 33.70h4.70M501.66 31.35v4.70M499.75 33.49h4.70M502.10 31.14v4.70M500.02 33.32h4.70M502.37 30.97v4.70M500.46 34.31h4.70M502.81 31.96v4.70M500.63 33.60h4.70M502.98 31.25v4.70M500.78 33.66h4.70M503.13 31.31v4.70M501.15 33.22h4.70M503.50 30.87v4.70M501.35 32.92h4.70M503.70 30.57v4.70M501.62 32.84h4.70M503.97 30.49v4.70M501.79 33.66h4.70M504.14 31.31v4.70M502.33 33.39h4.70M504.68 31.04v4.70M502.62 32.67h4.70M504.97 30.32v4.70M502.84 32.81h4.70M505.19 30.46v4.70M503.00 33.03h4.70M505.35 30.68v4.70M503.43 33.08h4.70M505.78 30.73v4.70M503.70 32.95h4.70M506.05 30.60v4.70M503.97 33.38h4.70M506.32 31.03v4.70M504.58 33.32h4.70M506.93 30.97v4.70M504.50 33.08h4.70M506.85 30.73v4.70M504.96 33.23h4.70M507.31 30.88v4.70M505.28 33.27h4.70M507.63 30.92v4.70M505.45 32.79h4.70M507.80 30.44v4.70M505.44 33.16h4.70M507.79 30.81v4.70M506.04 32.55h4.70M508.39 30.20v4.70M506.24 32.65h4.70M508.59 30.30v4.70M506.45 33.24h4.70M508.80 30.89v4.70M506.75 33.41h4.70M509.10 31.06v4.70M507.07 32.42h4.70M509.42 30.07v4.70M507.39 33.31h4.70M509.74 30.96v4.70M507.63 32.69h4.70M509.98 30.34v4.70M507.60 32.66h4.70M509.95 30.31v4.70M508.01 32.40h4.70M510.36 30.05v4.70M508.71 32.30h4.70M511.06 29.95v4.70M508.89 32.25h4.70M511.24 29.90v4.70M509.02 32.33h4.70M511.37 29.98v4.70M509.52 32.19h4.70M511.87 29.84v4.70M509.63 31.78h4.70M511.98 29.43v4.70M509.67 32.00h4.70M512.02 29.65v4.70M510.18 31.93h4.70M512.53 29.58v4.70M510.64 31.97h4.70M512.99 29.62v4.70M510.64 31.67h4.70M512.99 29.32v4.70M511.10 31.39h4.70M513.45 29.04v4.70M511.00 31.10h4.70M513.35 28.75v4.70M511.61 31.43h4.70M513.96 29.08v4.70M511.86 30.67h4.70M514.21 28.32v4.70M512.39 30.95h4.70M514.74 28.60v4.70M512.40 31.02h4.70M514.75 28.67v4.70M512.86 30.73h4.70M515.21 28.38v4.70M512.95 30.49h4.70M515.30 28.14v4.70M513.44 30.51h4.70M515.79 28.16v4.70M513.68 29.88h4.70M516.03 27.53v4.70M513.81 30.23h4.70M516.16 27.88v4.70M514.10 29.67h4.70M516.45 27.32v4.70M514.39 30.63h4.70M516.74 28.28v4.70M514.78 29.93h4.70M517.13 27.58v4.70M514.91 29.63h4.70M517.26 27.28v4.70M515.34 29.76h4.70M517.69 27.41v4.70M515.53 30.24h4.70M517.88 27.89v4.70M516.01 30.13h4.70M518.36 27.78v4.70M515.91 29.76h4.70M518.26 27.41v4.70M516.62 29.55h4.70M518.97 27.20v4.70M516.91 29.88h4.70M519.26 27.53v4.70M517.15 29.74h4.70M519.50 27.39v4.70M517.11 29.55h4.70M519.46 27.20v4.70M517.79 29.74h4.70M520.14 27.39v4.70M517.67 30.07h4.70M520.02 27.72v4.70M517.91 29.77h4.70M520.26 27.42v4.70M518.47 29.89h4.70M520.82 27.54v4.70M518.77 29.77h4.70M521.12 27.42v4.70M518.62 29.87h4.70M520.97 27.52v4.70M519.27 29.73h4.70M521.62 27.38v4.70M519.63 30.02h4.70M521.98 27.67v4.70M519.87 30.24h4.70M522.22 27.89v4.70M520.45 29.88h4.70M522.80 27.53v4.70M520.36 29.42h4.70M522.71 27.07v4.70M520.78 29.29h4.70M523.13 26.94v4.70M521.23 30.14h4.70M523.58 27.79v4.70M521.18 30.07h4.70M523.53 27.72v4.70M521.41 29.56h4.70M523.76 27.21v4.70M521.94 29.61h4.70M524.29 27.26v4.70M522.15 29.90h4.70M524.50 27.55v4.70M522.63 30.05h4.70M524.98 27.70v4.70M522.91 30.23h4.70M525.26 27.88v4.70M522.84 29.63h4.70M525.19 27.28v4.70M522.93 30.00h4.70M525.28 27.65v4.70M523.11 29.74h4.70M525.46 27.39v4.70M523.45 29.78h4.70M525.80 27.43v4.70M524.20 29.69h4.70M526.55 27.34v4.70M524.29 29.78h4.70M526.64 27.43v4.70M524.70 29.44h4.70M527.05 27.09v4.70M524.96 29.81h4.70M527.31 27.46v4.70M525.07 29.49h4.70M527.42 27.14v4.70M525.69 29.94h4.70M528.04 27.59v4.70M525.86 29.41h4.70M528.21 27.06v4.70M526.03 29.20h4.70M528.38 26.85v4.70M526.10 29.38h4.70M528.45 27.03v4.70M526.55 29.07h4.70M528.90 26.72v4.70M526.74 29.48h4.70M529.09 27.13v4.70M527.14 28.81h4.70M529.49 26.46v4.70M527.80 28.68h4.70M530.15 26.33v4.70M527.81 28.82h4.70M530.16 26.47v4.70M528.16 29.06h4.70M530.51 26.71v4.70M528.50 28.94h4.70M530.85 26.59v4.70M528.51 29.31h4.70M530.86 26.96v4.70M528.90 28.73h4.70M531.25 26.38v4.70M529.17 28.50h4.70M531.52 26.15v4.70M529.53 29.15h4.70M531.88 26.80v4.70M529.99 28.66h4.70M532.34 26.31v4.70M530.14 28.73h4.70M532.49 26.38v4.70M530.23 28.87h4.70M532.58 26.52v4.70M530.65 27.80h4.70M533.00 25.45v4.70M530.99 27.99h4.70M533.34 25.64v4.70M531.22 28.39h4.70M533.57 26.04v4.70M531.42 28.18h4.70M533.77 25.83v4.70M531.95 27.60h4.70M534.30 25.25v4.70M531.75 27.89h4.70M534.10 25.54v4.70M532.28 28.46h4.70M534.63 26.11v4.70M532.75 27.90h4.70M535.10 25.55v4.70M532.87 27.07h4.70M535.22 24.72v4.70M532.96 27.46h4.70M535.31 25.11v4.70M533.47 27.34h4.70M535.82 24.99v4.70M533.75 27.59h4.70M536.10 25.24v4.70M533.91 27.16h4.70M536.26 24.81v4.70M534.15 27.56h4.70M536.50 25.21v4.70M534.28 27.29h4.70M536.63 24.94v4.70M534.98 26.42h4.70M537.33 24.07v4.70M535.07 27.27h4.70M537.42 24.92v4.70M535.29 26.69h4.70M537.64 24.34v4.70M535.71 27.19h4.70M538.06 24.84v4.70M536.09 26.51h4.70M538.44 24.16v4.70M536.07 26.20h4.70M538.42 23.85v4.70M536.61 25.93h4.70M538.96 23.58v4.70M536.76 26.70h4.70M539.11 24.35v4.70M536.95 26.37h4.70M539.30 24.02v4.70M537.40 26.64h4.70M539.75 24.29v4.70M537.49 26.39h4.70M539.84 24.04v4.70M537.97 26.36h4.70M540.32 24.01v4.70M538.03 26.44h4.70M540.38 24.09v4.70M538.42 26.21h4.70M540.77 23.86v4.70M538.70 26.79h4.70M541.05 24.44v4.70M539.12 26.81h4.70M541.47 24.46v4.70M539.30 26.04h4.70M541.65 23.69v4.70M539.90 25.98h4.70M542.25 23.63v4.70M540.03 26.39h4.70M542.38 24.04v4.70M540.19 25.81h4.70M542.54 23.46v4.70M540.50 26.28h4.70M542.85 23.93v4.70M540.88 26.32h4.70M543.23 23.97v4.70M541.06 25.76h4.70M543.41 23.41v4.70M541.21 25.78h4.70M543.56 23.43v4.70M541.58 25.80h4.70M543.93 23.45v4.70M541.81 25.59h4.70M544.16 23.24v4.70M542.19 26.06h4.70M544.54 23.71v4.70M542.47 25.57h4.70M544.82 23.22v4.70M542.96 26.12h4.70M545.31 23.77v4.70M543.04 25.62h4.70M545.39 23.27v4.70M543.10 25.20h4.70M545.45 22.85v4.70M543.65 26.06h4.70M546.00 23.71v4.70M544.21 25.88h4.70M546.56 23.53v4.70M544.15 25.77h4.70M546.50 23.42v4.70M544.28 25.58h4.70M546.63 23.23v4.70M544.61 25.59h4.70M546.96 23.24v4.70M545.29 26.23h4.70M547.64 23.88v4.70M545.39 25.69h4.70M547.74 23.34v4.70M545.39 25.38h4.70M547.74 23.03v4.70M546.15 25.92h4.70M548.50 23.57v4.70M546.33 25.71h4.70M548.68 23.36v4.70M546.74 25.50h4.70M549.09 23.15v4.70M546.75 26.42h4.70M549.10 24.07v4.70M546.93 25.71h4.70M549.28 23.36v4.70M547.28 26.03h4.70M549.63 23.68v4.70M547.58 25.49h4.70M549.93 23.14v4.70M547.86 25.84h4.70M550.21 23.49v4.70M548.04 25.16h4.70M550.39 22.81v4.70M548.46 25.50h4.70M550.81 23.15v4.70M548.84 25.51h4.70M551.19 23.16v4.70M548.95 25.71h4.70M551.30 23.36v4.70M549.39 25.94h4.70M551.74 23.59v4.70M549.62 25.10h4.70M551.97 22.75v4.70M549.89 25.66h4.70M552.24 23.31v4.70M550.16 25.83h4.70M552.51 23.48v4.70M550.42 26.02h4.70M552.77 23.67v4.70M550.70 26.12h4.70M553.05 23.77v4.70M550.86 25.00h4.70M553.21 22.65v4.70M551.17 26.58h4.70M553.52 24.23v4.70M551.56 25.71h4.70M553.91 23.36v4.70M551.92 25.63h4.70M554.27 23.28v4.70M552.20 25.81h4.70M554.55 23.46v4.70M552.76 26.15h4.70M555.11 23.80v4.70M552.77 26.02h4.70M555.12 23.67v4.70M553.11 25.50h4.70M555.46 23.15v4.70M553.47 25.65h4.70M555.82 23.30v4.70M553.70 25.90h4.70M556.05 23.55v4.70M554.00 26.31h4.70M556.35 23.96v4.70M554.24 25.76h4.70M556.59 23.41v4.70M554.39 26.10h4.70M556.74 23.75v4.70M554.66 25.86h4.70M557.01 23.51v4.70M554.98 25.91h4.70M557.33 23.56v4.70M555.36 25.93h4.70M557.71 23.58v4.70M555.58 25.90h4.70M557.93 23.55v4.70M555.59 26.42h4.70M557.94 24.07v4.70M556.28 26.10h4.70M558.63 23.75v4.70M556.54 26.41h4.70M558.89 24.06v4.70M556.53 26.74h4.70M558.88 24.39v4.70M556.69 26.45h4.70M559.04 24.10v4.70M557.38 26.21h4.70M559.73 23.86v4.70M557.80 26.44h4.70M560.15 24.09v4.70M558.03 26.64h4.70M560.38 24.29v4.70M558.23 26.77h4.70M560.58 24.42v4.70M558.76 26.99h4.70M561.11 24.64v4.70M558.85 27.17h4.70M561.20 24.82v4.70M559.01 26.96h4.70M561.36 24.61v4.70M559.32 27.41h4.70M561.67 25.06v4.70M559.68 27.36h4.70M562.03 25.01v4.70M559.81 27.48h4.70M562.16 25.13v4.70M559.97 27.34h4.70M562.32 24.99v4.70M560.09 27.21h4.70M562.44 24.86v4.70M560.66 27.06h4.70M563.01 24.71v4.70M560.79 27.82h4.70M563.14 25.47v4.70M561.33 27.93h4.70M563.68 25.58v4.70M561.71 27.85h4.70M564.06 25.50v4.70M561.94 27.79h4.70M564.29 25.44v4.70M562.30 27.28h4.70M564.65 24.93v4.70M562.36 28.09h4.70M564.71 25.74v4.70M562.80 27.85h4.70M565.15 25.50v4.70M562.91 28.12h4.70M565.26 25.77v4.70M563.21 27.58h4.70M565.56 25.23v4.70M563.70 27.84h4.70M566.05 25.49v4.70M563.83 27.51h4.70M566.18 25.16v4.70M563.71 28.18h4.70M566.06 25.83v4.70M564.62 27.40h4.70M566.97 25.05v4.70M564.58 28.29h4.70M566.93 25.94v4.70M564.97 28.18h4.70M567.32 25.83v4.70M565.22 27.90h4.70M567.57 25.55v4.70M565.67 28.52h4.70M568.02 26.17v4.70M565.85 27.57h4.70M568.20 25.22v4.70M566.33 28.27h4.70M568.68 25.92v4.70M566.44 28.89h4.70M568.79 26.54v4.70M566.84 28.31h4.70M569.19 25.96v4.70M567.09 28.54h4.70M569.44 26.19v4.70M567.12 28.42h4.70M569.47 26.07v4.70M567.23 27.92h4.70M569.58 25.57v4.70M567.81 28.83h4.70M570.16 26.48v4.70M567.91 28.77h4.70M570.26 26.42v4.70M568.37 28.95h4.70M570.72 26.60v4.70M568.58 29.30h4.70M570.93 26.95v4.70M568.98 28.33h4.70M571.33 25.98v4.70M569.23 27.85h4.70M571.58 25.50v4.70M569.53 28.29h4.70M571.88 25.94v4.70M569.84 28.28h4.70M572.19 25.93v4.70M569.64 27.59h4.70M571.99 25.24v4.70M570.23 27.98h4.70M572.58 25.63v4.70M570.75 28.02h4.70M573.10 25.67v4.70M570.96 28.28h4.70M573.31 25.93v4.70M571.41 28.34h4.70M573.76 25.99v4.70M571.49 27.99h4.70M573.84 25.64v4.70M571.80 28.49h4.70M574.15 26.14v4.70M572.01 28.48h4.70M574.36 26.13v4.70M572.16 28.19h4.70M574.51 25.84v4.70M572.66 28.14h4.70M575.01 25.79v4.70M573.06 28.41h4.70M575.41 26.06v4.70M573.07 27.92h4.70M575.42 25.57v4.70M573.45 27.97h4.70M575.80 25.62v4.70M573.67 27.84h4.70M576.02 25.49v4.70M574.13 28.21h4.70M576.48 25.86v4.70M574.34 28.40h4.70M576.69 26.05v4.70M574.24 28.15h4.70M576.59 25.80v4.70M574.83 28.33h4.70M577.18 25.98v4.70M575.22 28.28h4.70M577.57 25.93v4.70M575.63 27.55h4.70M577.98 25.20v4.70M575.56 28.47h4.70M577.91 26.12v4.70M576.22 27.86h4.70M578.57 25.51v4.70M576.45 28.36h4.70M578.80 26.01v4.70M576.36 27.92h4.70M578.71 25.57v4.70M576.90 28.10h4.70M579.25 25.75v4.70M577.41 28.34h4.70M579.76 25.99v4.70M577.55 28.00h4.70M579.90 25.65v4.70M577.52 28.07h4.70M579.87 25.72v4.70M578.20 28.87h4.70M580.55 26.52v4.70M578.15 28.34h4.70M580.50 25.99v4.70M578.18 28.85h4.70M580.53 26.50v4.70M578.65 28.82h4.70M581.00 26.47v4.70M579.31 28.24h4.70M581.66 25.89v4.70M579.27 28.96h4.70M581.62 26.61v4.70M579.89 28.69h4.70M582.24 26.34v4.70M579.81 29.06h4.70M582.16 26.71v4.70M580.44 28.73h4.70M582.79 26.38v4.70M580.42 29.52h4.70M582.77 27.17v4.70M580.85 29.04h4.70M583.20 26.69v4.70M581.10 29.54h4.70M583.45 27.19v4.70M581.54 29.60h4.70M583.89 27.25v4.70M581.67 29.11h4.70M584.02 26.76v4.70M582.03 29.88h4.70M584.38 27.53v4.70M582.27 29.83h4.70M584.62 27.48v4.70M582.54 30.21h4.70M584.89 27.86v4.70M582.75 29.65h4.70M585.10 27.30v4.70M583.22 30.00h4.70M585.57 27.65v4.70M583.33 30.33h4.70M585.68 27.98v4.70M583.62 30.28h4.70M585.97 27.93v4.70M583.77 30.79h4.70M586.12 28.44v4.70M584.02 30.89h4.70M586.37 28.54v4.70M584.32 30.38h4.70M586.67 28.03v4.70M584.73 30.96h4.70M587.08 28.61v4.70M585.10 30.66h4.70M587.45 28.31v4.70M585.17 31.20h4.70M587.52 28.85v4.70M585.64 31.13h4.70M587.99 28.78v4.70M585.89 30.95h4.70M588.24 28.60v4.70M586.31 31.30h4.70M588.66 28.95v4.70M586.66 31.37h4.70M589.01 29.02v4.70M586.56 31.64h4.70M588.91 29.29v4.70M587.07 31.44h4.70M589.42 29.09v4.70M586.88 31.35h4.70M589.23 29.00v4.70M587.65 31.52h4.70M590.00 29.17v4.70M587.95 31.98h4.70M590.30 29.63v4.70M588.19 31.62h4.70M590.54 29.27v4.70M588.54 32.10h4.70M590.89 29.75v4.70M588.72 31.51h4.70M591.07 29.16v4.70M588.86 32.41h4.70M591.21 30.06v4.70M589.29 31.71h4.70M591.64 29.36v4.70M589.58 32.35h4.70M591.93 30.00v4.70M589.99 32.55h4.70M592.34 30.20v4.70M590.23 32.27h4.70M592.58 29.92v4.70M590.21 32.39h4.70M592.56 30.04v4.70M590.95 32.21h4.70M593.30 29.86v4.70M591.16 32.29h4.70M593.51 29.94v4.70M591.11 32.85h4.70M593.46 30.50v4.70M591.47 32.82h4.70M593.82 30.47v4.70M591.70 33.01h4.70M594.05 30.66v4.70M592.29 32.61h4.70M594.64 30.26v4.70M592.52 33.23h4.70M594.87 30.88v4.70M592.84 32.51h4.70M595.19 30.16v4.70M593.14 32.91h4.70M595.49 30.56v4.70M593.25 33.20h4.70M595.60 30.85v4.70M593.42 33.14h4.70M595.77 30.79v4.70M593.75 33.51h4.70M596.10 31.16v4.70M594.25 33.43h4.70M596.60 31.08v4.70M594.54 33.63h4.70M596.89 31.28v4.70M594.88 33.24h4.70M597.23 30.89v4.70M595.01 33.69h4.70M597.36 31.34v4.70M595.30 33.86h4.70M597.65 31.51v4.70M595.68 33.85h4.70M598.03 31.50v4.70M595.92 33.77h4.70M598.27 31.42v4.70M596.10 33.72h4.70M598.45 31.37v4.70M596.57 34.19h4.70M598.92 31.84v4.70M596.89 33.87h4.70M599.24 31.52v4.70M596.95 34.79h4.70M599.30 32.44v4.70M597.42 33.67h4.70M599.77 31.32v4.70M597.65 34.25h4.70M600.00 31.90v4.70M597.78 34.11h4.70M600.13 31.76v4.70M597.98 34.08h4.70M600.33 31.73v4.70M598.28 33.94h4.70M600.63 31.59v4.70M598.62 34.07h4.70M600.97 31.72v4.70M599.07 34.69h4.70M601.42 32.34v4.70M599.22 34.32h4.70M601.57 31.97v4.70M599.62 34.43h4.70M601.97 32.08v4.70M600.11 33.72h4.70M602.46 31.37v4.70M599.75 34.23h4.70M602.10 31.88v4.70M600.45 34.83h4.70M602.80 32.48v4.70M600.59 34.65h4.70M602.94 32.30v4.70M600.90 34.83h4.70M603.25 32.48v4.70M601.53 34.04h4.70M603.88 31.69v4.70M601.85 35.08h4.70M604.20 32.73v4.70M601.75 34.95h4.70M604.10 32.60v4.70M602.08 34.99h4.70M604.43 32.64v4.70M602.44 35.12h4.70M604.79 32.77v4.70M602.50 35.11h4.70M604.85 32.76v4.70M602.84 34.88h4.70M605.19 32.53v4.70M603.34 34.87h4.70M605.69 32.52v4.70M603.55 35.15h4.70M605.90 32.80v4.70M603.80 34.73h4.70M606.15 32.38v4.70M604.14 35.19h4.70M606.49 32.84v4.70M604.69 34.87h4.70M607.04 32.52v4.70M604.80 35.10h4.70M607.15 32.75v4.70M604.88 35.79h4.70M607.23 33.44v4.70M605.19 35.57h4.70M607.54 33.22v4.70M605.51 35.11h4.70M607.86 32.76v4.70M605.74 35.31h4.70M608.09 32.96v4.70M606.02 36.06h4.70M608.37 33.71v4.70M606.41 35.04h4.70M608.76 32.69v4.70M606.91 35.74h4.70M609.26 33.39v4.70M607.04 36.16h4.70M609.39 33.81v4.70M607.07 35.86h4.70M609.42 33.51v4.70M607.46 35.73h4.70M609.81 33.38v4.70M607.71 35.94h4.70M610.06 33.59v4.70M608.22 36.22h4.70M610.57 33.87v4.70M608.37 36.42h4.70M610.72 34.07v4.70M608.26 36.15h4.70M610.61 33.80v4.70M608.95 36.32h4.70M611.30 33.97v4.70M609.39 36.36h4.70M611.74 34.01v4.70M609.67 36.34h4.70M612.02 33.99v4.70M609.85 36.51h4.70M612.20 34.16v4.70M609.99 36.72h4.70M612.34 34.37v4.70M610.40 36.39h4.70M612.75 34.04v4.70M610.74 36.67h4.70M613.09 34.32v4.70M610.90 36.03h4.70M613.25 33.68v4.70M611.16 36.36h4.70M613.51 34.01v4.70M611.58 36.80h4.70M613.93 34.45v4.70M611.67 37.08h4.70M614.02 34.73v4.70M611.82 37.24h4.70M614.17 34.89v4.70M612.12 37.28h4.70M614.47 34.93v4.70M612.71 37.84h4.70M615.06 35.49v4.70M613.08 37.50h4.70M615.43 35.15v4.70M613.01 37.83h4.70M615.36 35.48v4.70M613.67 37.55h4.70M616.02 35.20v4.70M613.92 37.90h4.70M616.27 35.55v4.70M613.61 38.10h4.70M615.96 35.75v4.70M614.57 38.43h4.70M616.92 36.08v4.70M614.73 38.49h4.70M617.08 36.14v4.70M614.60 37.82h4.70M616.95 35.47v4.70M614.98 38.59h4.70M617.33 36.24v4.70M615.27 38.65h4.70M617.62 36.30v4.70M615.82 39.54h4.70M618.17 37.19v4.70M615.73 38.99h4.70M618.08 36.64v4.70M616.25 39.47h4.70M618.60 37.12v4.70M616.20 40.65h4.70M618.55 38.30v4.70M616.94 40.12h4.70M619.29 37.77v4.70M616.83 40.35h4.70M619.18 38.00v4.70M617.23 40.67h4.70M619.58 38.32v4.70M617.73 40.79h4.70M620.08 38.44v4.70M618.04 40.89h4.70M620.39 38.54v4.70M618.28 40.66h4.70M620.63 38.31v4.70M618.65 41.69h4.70M621.00 39.34v4.70M619.20 42.19h4.70M621.55 39.84v4.70M618.61 42.86h4.70M620.96 40.51v4.70M618.99 42.33h4.70M621.34 39.98v4.70M619.24 43.38h4.70M621.59 41.03v4.70M619.68 43.22h4.70M622.03 40.87v4.70M619.56 43.79h4.70M621.91 41.44v4.70M619.57 43.96h4.70M621.92 41.61v4.70M619.79 44.52h4.70M622.14 42.17v4.70M620.12 44.38h4.70M622.47 42.03v4.70M620.17 45.52h4.70M622.52 43.17v4.70M620.45 45.73h4.70M622.80 43.38v4.70M620.32 46.32h4.70M622.67 43.97v4.70M620.44 46.55h4.70M622.79 44.20v4.70M620.56 46.98h4.70M622.91 44.63v4.70M620.65 47.47h4.70M623.00 45.12v4.70M620.83 47.91h4.70M623.18 45.56v4.70M620.89 48.92h4.70M623.24 46.57v4.70M621.28 49.13h4.70M623.63 46.78v4.70M621.21 49.86h4.70M623.56 47.51v4.70M621.48 50.16h4.70M623.83 47.81v4.70M621.67 50.69h4.70M624.02 48.34v4.70M621.94 51.02h4.70M624.29 48.67v4.70M621.84 51.84h4.70M624.19 49.49v4.70M622.05 52.50h4.70M624.40 50.15v4.70M622.36 53.29h4.70M624.71 50.94v4.70M622.51 53.35h4.70M624.86 51.00v4.70M622.48 53.88h4.70M624.83 51.53v4.70M622.82 54.49h4.70M625.17 52.14v4.70M622.63 54.71h4.70M624.98 52.36v4.70M622.99 55.22h4.70M625.34 52.87v4.70M622.59 56.16h4.70M624.94 53.81v4.70M623.15 56.64h4.70M625.50 54.29v4.70M623.36 57.02h4.70M625.71 54.67v4.70M623.39 57.34h4.70M625.74 54.99v4.70M623.33 57.14h4.70M625.68 54.79v4.70M623.29 58.45h4.70M625.64 56.10v4.70M623.85 58.90h4.70M626.20 56.55v4.70M623.75 59.64h4.70M626.10 57.29v4.70M624.01 60.00h4.70M626.36 57.65v4.70M624.10 60.20h4.70M626.45 57.85v4.70M624.14 61.22h4.70M626.49 58.87v4.70M624.68 62.19h4.70M627.03 59.84v4.70M624.55 62.35h4.70M626.90 60.00v4.70M624.71 62.83h4.70M627.06 60.48v4.70M624.93 63.62h4.70M627.28 61.27v4.70M624.81 64.34h4.70M627.16 61.99v4.70M625.07 63.98h4.70M627.42 61.63v4.70M625.55 64.47h4.70M627.90 62.12v4.70M625.31 64.99h4.70M627.66 62.64v4.70M625.61 64.87h4.70M627.96 62.52v4.70M625.60 65.66h4.70M627.95 63.31v4.70M625.89 67.23h4.70M628.24 64.88v4.70M625.90 66.84h4.70M628.25 64.49v4.70M626.06 68.19h4.70M628.41 65.84v4.70M626.04 67.88h4.70M628.39 65.53v4.70M626.33 68.04h4.70M628.68 65.69v4.70M626.18 68.89h4.70M628.53 66.54v4.70M626.36 69.70h4.70M628.71 67.35v4.70M626.43 69.50h4.70M628.78 67.15v4.70M626.35 70.25h4.70M628.70 67.90v4.70M626.75 71.04h4.70M629.10 68.69v4.70M626.88 70.80h4.70M629.23 68.45v4.70M627.02 71.57h4.70M629.37 69.22v4.70M627.27 72.22h4.70M629.62 69.87v4.70M627.18 72.67h4.70M629.53 70.32v4.70M627.51 73.30h4.70M629.86 70.95v4.70M627.91 74.16h4.70M630.26 71.81v4.70M627.47 74.26h4.70M629.82 71.91v4.70M627.94 74.96h4.70M630.29 72.61v4.70M628.02 75.23h4.70M630.37 72.88v4.70M627.84 75.13h4.70M630.19 72.78v4.70M628.33 75.81h4.70M630.68 73.46v4.70M628.36 76.60h4.70M630.71 74.25v4.70M628.21 76.25h4.70M630.56 73.90v4.70M628.72 77.03h4.70M631.07 74.68v4.70M628.73 77.94h4.70M631.08 75.59v4.70M628.88 77.97h4.70M631.23 75.62v4.70M629.10 77.85h4.70M631.45 75.50v4.70M629.46 78.87h4.70M631.81 76.52v4.70M629.26 79.46h4.70M631.61 77.11v4.70M629.35 79.27h4.70M631.70 76.92v4.70M629.44 79.77h4.70M631.79 77.42v4.70M629.66 80.27h4.70M632.01 77.92v4.70M629.81 80.62h4.70M632.16 78.27v4.70M630.12 81.00h4.70M632.47 78.65v4.70M630.25 81.24h4.70M632.60 78.89v4.70M630.21 80.94h4.70M632.56 78.59v4.70M630.95 61.20h4.70M633.30 58.85v4.70" fill="none" stroke="#000" stroke-width="1.0"/>
<g stroke="#000" stroke-width="0.3">
<text transform="translate(23.10 36.55)" font-weight="bold" font-size="10.5" textLength="20.3" lengthAdjust="spacing" >-2.0</text>
<text transform="translate(23.10 71.63)" font-weight="bold" font-size="10.5" textLength="20.3" lengthAdjust="spacing" >-2.2</text>
<text transform="translate(23.10 106.71)" font-weight="bold" font-size="10.5" textLength="20.3" lengthAdjust="spacing" >-2.4</text>
<text transform="translate(23.10 141.79)" font-weight="bold" font-size="10.5" textLength="20.3" lengthAdjust="spacing" >-2.6</text>
<text transform="translate(23.10 176.87)" font-weight="bold" font-size="10.5" textLength="20.3" lengthAdjust="spacing" >-2.8</text>
<text transform="translate(23.10 211.95)" font-weight="bold" font-size="10.5" textLength="20.3" lengthAdjust="spacing" >-3.0</text>
<text transform="translate(23.10 247.03)" font-weight="bold" font-size="10.5" textLength="20.3" lengthAdjust="spacing" >-3.2</text>
<text transform="translate(23.10 282.11)" font-weight="bold" font-size="10.5" textLength="20.3" lengthAdjust="spacing" >-3.4</text>
<text transform="translate(23.10 317.19)" font-weight="bold" font-size="10.5" textLength="20.3" lengthAdjust="spacing" >-3.6</text>
<text transform="translate(23.10 352.27)" font-weight="bold" font-size="10.5" textLength="20.3" lengthAdjust="spacing" >-3.8</text>
<text transform="translate(39.95 374.60)" font-weight="bold" font-size="10.5" textLength="32.6" lengthAdjust="spacing" >45000</text>
<text transform="translate(96.67 374.60)" font-weight="bold" font-size="10.5" textLength="32.6" lengthAdjust="spacing" >45050</text>
<text transform="translate(153.39 374.60)" font-weight="bold" font-size="10.5" textLength="32.6" lengthAdjust="spacing" >45100</text>
<text transform="translate(210.11 374.60)" font-weight="bold" font-size="10.5" textLength="32.6" lengthAdjust="spacing" >45150</text>
<text transform="translate(266.83 374.60)" font-weight="bold" font-size="10.5" textLength="32.6" lengthAdjust="spacing" >45200</text>
<text transform="translate(323.55 374.60)" font-weight="bold" font-size="10.5" textLength="32.6" lengthAdjust="spacing" >45250</text>
<text transform="translate(380.27 374.60)" font-weight="bold" font-size="10.5" textLength="32.6" lengthAdjust="spacing" >45300</text>
<text transform="translate(436.99 374.60)" font-weight="bold" font-size="10.5" textLength="32.6" lengthAdjust="spacing" >45350</text>
<text transform="translate(493.71 374.60)" font-weight="bold" font-size="10.5" textLength="32.6" lengthAdjust="spacing" >45400</text>
<text transform="translate(550.43 374.60)" font-weight="bold" font-size="10.5" textLength="32.6" lengthAdjust="spacing" >45450</text>
<text transform="translate(607.15 374.60)" font-weight="bold" font-size="10.5" textLength="32.6" lengthAdjust="spacing" >45500</text>
<text transform="translate(102.30 386.70)" font-weight="bold" font-size="10.5" textLength="58.9" lengthAdjust="spacing" >FREQ MHz</text>
<text transform="translate(247.45 386.70)" font-weight="bold" font-size="10.5" textLength="58.9" lengthAdjust="spacing" >FREQ MHz</text>
<text transform="translate(392.60 386.70)" font-weight="bold" font-size="10.5" textLength="58.9" lengthAdjust="spacing" >FREQ MHz</text>
<text transform="translate(537.75 386.70)" font-weight="bold" font-size="10.5" textLength="58.9" lengthAdjust="spacing" >FREQ MHz</text>
<text transform="translate(52.80 398.70)" font-weight="bold" font-size="10.5" textLength="217.7" lengthAdjust="spacing" >Scalar averaged cross-power spectrum</text>
<text transform="translate(283.40 398.70)" font-weight="bold" font-size="10.5" textLength="151.5" lengthAdjust="spacing" >Several baselines averaged</text>
<text transform="translate(18.40 221.60) rotate(-90)" font-weight="bold" font-size="10.5" textLength="83.2" lengthAdjust="spacing" >Log10(Amp) Jy</text>
<text transform="translate(60.80 351.70) scale(0.9344 1)" font-size="12" stroke-width="0.8">IF 1(I)</text>
<text transform="translate(205.60 351.70) scale(0.9563 1)" font-size="12" stroke-width="0.8">IF 2(I)</text>
<text transform="translate(351.60 351.70) scale(0.9313 1)" font-size="12" stroke-width="0.8">IF 3(I)</text>
<text transform="translate(496.40 351.70) scale(0.9469 1)" font-size="12" stroke-width="0.8">IF 4(I)</text>
</g>
</g>
</svg>
</body>
</html>
